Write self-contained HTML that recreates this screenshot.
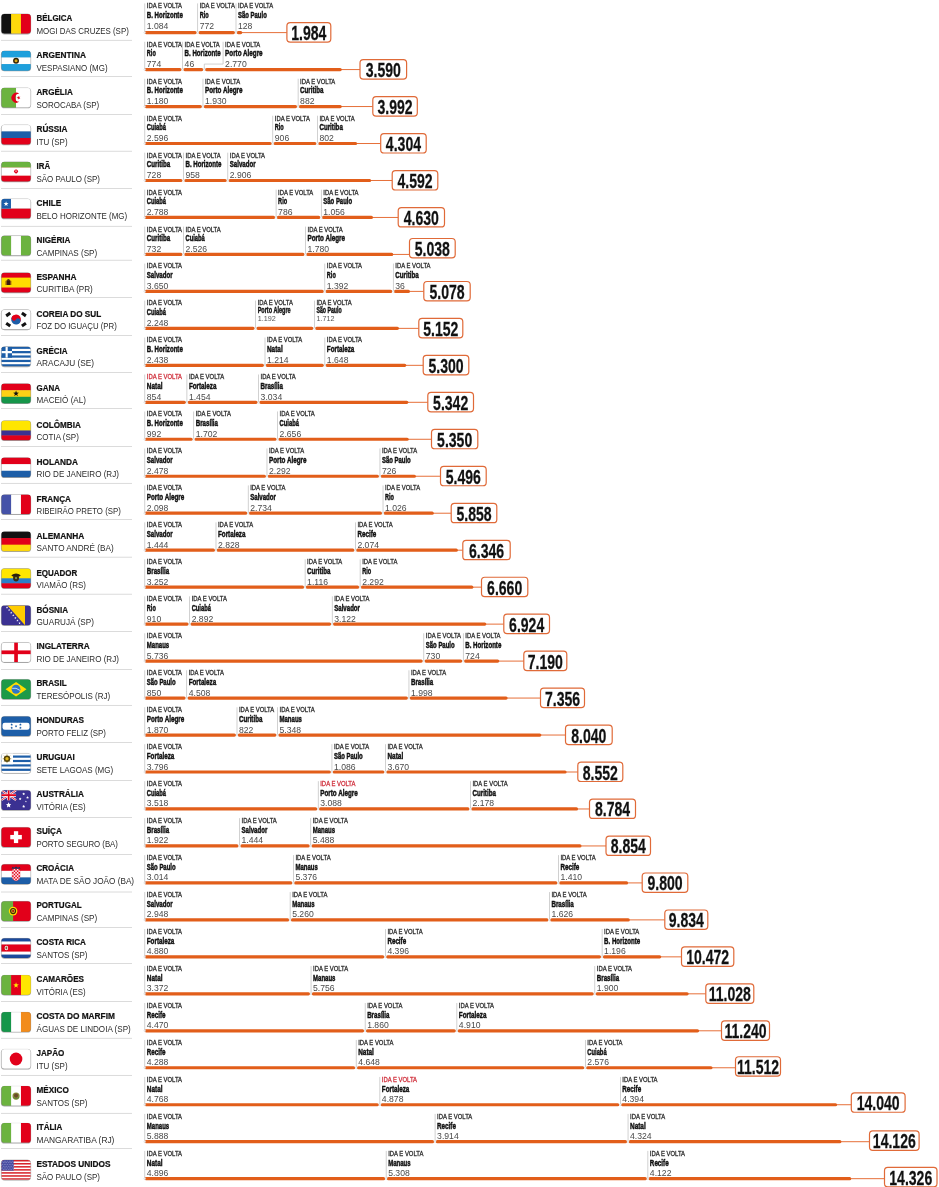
<!DOCTYPE html>
<html><head><meta charset="utf-8"><title>Distâncias</title>
<style>html,body{margin:0;padding:0;background:#fff}body{width:939px;height:1187px;overflow:hidden;font-family:"Liberation Sans",sans-serif}svg{display:block}</style>
</head><body>
<svg width="939" height="1187" viewBox="0 0 939 1187" font-family="Liberation Sans, sans-serif">
<defs><clipPath id="fc"><rect x="0" y="0" width="29" height="19" rx="3.2" ry="3.2"/></clipPath><clipPath id="crs"><path d="M10.6 4.4 H18.4 V11.8 Q18.4 15.4 14.5 16.0 Q10.6 15.4 10.6 11.8 Z"/></clipPath><filter id="sh" x="-20%" y="-20%" width="140%" height="150%"><feGaussianBlur stdDeviation="0.7"/></filter></defs>
<rect width="939" height="1187" fill="#fff"/>
<g opacity="0.999"><rect x="1" y="39.90" width="131" height="0.8" fill="#d2d2d2"/><rect x="0.9" y="13.80" width="30.2" height="20.6" rx="3.6" fill="#000" opacity="0.34" filter="url(#sh)"/><g transform="translate(1.3,13.90) scale(1.017,1.042)"><g clip-path="url(#fc)"><rect x="0.00" y="0.00" width="9.97" height="19.00" fill="#111111"/><rect x="9.67" y="0.00" width="9.97" height="19.00" fill="#ffd90c"/><rect x="19.33" y="0.00" width="9.97" height="19.00" fill="#e2001a"/></g></g><rect x="1.3" y="13.90" width="29.5" height="19.8" rx="3.3" fill="none" stroke="#000" stroke-opacity="0.10" stroke-width="0.6"/><text x="36.50" y="21.00" font-size="8.6" font-weight="bold" fill="#111" textLength="35.84" lengthAdjust="spacingAndGlyphs" stroke="#111" stroke-width="0.2">BÉLGICA</text><text x="36.50" y="33.70" font-size="8.9" font-weight="normal" fill="#2a2a2a" textLength="92.32" lengthAdjust="spacingAndGlyphs" >MOGI DAS CRUZES (SP)</text><rect x="144.45" y="3.40" width="0.7" height="29.20" fill="#bdbdbd"/><text x="146.80" y="8.30" font-size="6.4" font-weight="normal" fill="#2b2b2b" textLength="35.20" lengthAdjust="spacingAndGlyphs" stroke="#2b2b2b" stroke-width="0.28">IDA E VOLTA</text><text x="146.80" y="18.10" font-size="9.7" font-weight="bold" fill="#111" textLength="36.00" lengthAdjust="spacingAndGlyphs" stroke="#111" stroke-width="0.5">B. Horizonte</text><text transform="translate(146.80,28.70) scale(0.93,1)" font-size="9.3" font-weight="normal" fill="#4a4a4a" text-anchor="start" >1.084</text><rect x="197.35" y="3.40" width="0.7" height="29.20" fill="#bdbdbd"/><text x="199.70" y="8.30" font-size="6.4" font-weight="normal" fill="#2b2b2b" textLength="35.20" lengthAdjust="spacingAndGlyphs" stroke="#2b2b2b" stroke-width="0.28">IDA E VOLTA</text><text x="199.70" y="18.10" font-size="9.7" font-weight="bold" fill="#111" textLength="9.00" lengthAdjust="spacingAndGlyphs" stroke="#111" stroke-width="0.5">Rio</text><text transform="translate(199.70,28.70) scale(0.93,1)" font-size="9.3" font-weight="normal" fill="#4a4a4a" text-anchor="start" >772</text><rect x="235.65" y="3.40" width="0.7" height="29.20" fill="#bdbdbd"/><text x="238.00" y="8.30" font-size="6.4" font-weight="normal" fill="#2b2b2b" textLength="35.20" lengthAdjust="spacingAndGlyphs" stroke="#2b2b2b" stroke-width="0.28">IDA E VOLTA</text><text x="238.00" y="18.10" font-size="9.7" font-weight="bold" fill="#111" textLength="28.80" lengthAdjust="spacingAndGlyphs" stroke="#111" stroke-width="0.5">São Paulo</text><text transform="translate(238.00,28.70) scale(0.93,1)" font-size="9.3" font-weight="normal" fill="#4a4a4a" text-anchor="start" >128</text><rect x="241.30" y="32.10" width="45.60" height="1.0" fill="#e6703a"/><rect x="144.60" y="31.00" width="52.10" height="3.2" rx="1.6" fill="#e25e1a"/><rect x="198.40" y="31.00" width="36.60" height="3.2" rx="1.6" fill="#e25e1a"/><rect x="236.70" y="31.00" width="5.60" height="3.2" rx="1.6" fill="#e25e1a"/><circle cx="144.80" cy="32.60" r="0.9" fill="#fff" stroke="#bdbdbd" stroke-width="0.4"/><circle cx="197.70" cy="32.60" r="0.9" fill="#fff" stroke="#bdbdbd" stroke-width="0.4"/><circle cx="236.00" cy="32.60" r="0.9" fill="#fff" stroke="#bdbdbd" stroke-width="0.4"/><rect x="286.90" y="22.70" width="43.90" height="19.4" rx="3.3" fill="#fff" stroke="#e06a38" stroke-width="1.2"/><text transform="translate(308.85,40.10) scale(0.71,1)" font-size="19.8" font-weight="bold" fill="#111" text-anchor="middle" stroke="#111" stroke-width="0.25">1.984</text></g>
<g opacity="0.999"><rect x="1" y="76.07" width="131" height="0.8" fill="#d2d2d2"/><rect x="0.9" y="50.77" width="30.2" height="20.6" rx="3.6" fill="#000" opacity="0.34" filter="url(#sh)"/><g transform="translate(1.3,50.87) scale(1.017,1.042)"><g clip-path="url(#fc)"><rect x="0.00" y="0.00" width="29.00" height="6.63" fill="#1fa0dc"/><rect x="0.00" y="6.33" width="29.00" height="6.63" fill="#ffffff"/><rect x="0.00" y="12.67" width="29.00" height="6.63" fill="#1fa0dc"/><circle cx="14.5" cy="9.5" r="2.9" fill="#2e2205" /><circle cx="14.5" cy="9.5" r="1.5" fill="#d9a81c" /></g></g><rect x="1.3" y="50.87" width="29.5" height="19.8" rx="3.3" fill="none" stroke="#000" stroke-opacity="0.10" stroke-width="0.6"/><text x="36.50" y="57.97" font-size="8.6" font-weight="bold" fill="#111" textLength="49.44" lengthAdjust="spacingAndGlyphs" stroke="#111" stroke-width="0.2">ARGENTINA</text><text x="36.50" y="70.67" font-size="8.9" font-weight="normal" fill="#2a2a2a" textLength="71.04" lengthAdjust="spacingAndGlyphs" >VESPASIANO (MG)</text><rect x="144.45" y="41.77" width="0.7" height="27.80" fill="#bdbdbd"/><text x="146.80" y="46.67" font-size="6.4" font-weight="normal" fill="#2b2b2b" textLength="35.20" lengthAdjust="spacingAndGlyphs" stroke="#2b2b2b" stroke-width="0.28">IDA E VOLTA</text><text x="146.80" y="56.47" font-size="9.7" font-weight="bold" fill="#111" textLength="9.00" lengthAdjust="spacingAndGlyphs" stroke="#111" stroke-width="0.5">Rio</text><text transform="translate(146.80,67.07) scale(0.93,1)" font-size="9.3" font-weight="normal" fill="#4a4a4a" text-anchor="start" >774</text><rect x="182.25" y="41.77" width="0.7" height="27.80" fill="#bdbdbd"/><text x="184.60" y="46.67" font-size="6.4" font-weight="normal" fill="#2b2b2b" textLength="35.20" lengthAdjust="spacingAndGlyphs" stroke="#2b2b2b" stroke-width="0.28">IDA E VOLTA</text><text x="184.60" y="56.47" font-size="9.7" font-weight="bold" fill="#111" textLength="36.00" lengthAdjust="spacingAndGlyphs" stroke="#111" stroke-width="0.5">B. Horizonte</text><text transform="translate(184.60,67.07) scale(0.93,1)" font-size="9.3" font-weight="normal" fill="#4a4a4a" text-anchor="start" >46</text><path d="M223.10 41.77 V64.07 H204.30 V69.57" stroke="#bdbdbd" stroke-width="0.7" fill="none"/><text x="225.10" y="46.67" font-size="6.4" font-weight="normal" fill="#2b2b2b" textLength="35.20" lengthAdjust="spacingAndGlyphs" stroke="#2b2b2b" stroke-width="0.28">IDA E VOLTA</text><text x="225.10" y="56.47" font-size="9.7" font-weight="bold" fill="#111" textLength="37.50" lengthAdjust="spacingAndGlyphs" stroke="#111" stroke-width="0.5">Porto Alegre</text><text transform="translate(225.10,67.07) scale(0.93,1)" font-size="9.3" font-weight="normal" fill="#4a4a4a" text-anchor="start" >2.770</text><rect x="340.80" y="69.07" width="19.20" height="1.0" fill="#e6703a"/><rect x="144.60" y="67.97" width="37.00" height="3.2" rx="1.6" fill="#e25e1a"/><rect x="183.30" y="67.97" width="20.00" height="3.2" rx="1.6" fill="#e25e1a"/><rect x="205.00" y="67.97" width="136.80" height="3.2" rx="1.6" fill="#e25e1a"/><circle cx="144.80" cy="69.57" r="0.9" fill="#fff" stroke="#bdbdbd" stroke-width="0.4"/><circle cx="182.60" cy="69.57" r="0.9" fill="#fff" stroke="#bdbdbd" stroke-width="0.4"/><circle cx="204.30" cy="69.57" r="0.9" fill="#fff" stroke="#bdbdbd" stroke-width="0.4"/><rect x="360.00" y="59.67" width="46.60" height="19.4" rx="3.3" fill="#fff" stroke="#e06a38" stroke-width="1.2"/><text transform="translate(383.30,77.07) scale(0.71,1)" font-size="19.8" font-weight="bold" fill="#111" text-anchor="middle" stroke="#111" stroke-width="0.25">3.590</text></g>
<g opacity="0.999"><rect x="1" y="114.04" width="131" height="0.8" fill="#d2d2d2"/><rect x="0.9" y="87.74" width="30.2" height="20.6" rx="3.6" fill="#000" opacity="0.34" filter="url(#sh)"/><g transform="translate(1.3,87.84) scale(1.017,1.042)"><g clip-path="url(#fc)"><rect x="0.00" y="0.00" width="14.50" height="19.00" fill="#6cb33f"/><rect x="14.50" y="0.00" width="14.50" height="19.00" fill="#ffffff"/><path d="M17.6 5.6 A4.8 4.8 0 1 0 17.6 13.4 A3.7 3.7 0 1 1 17.6 5.6 Z" fill="#e2001a"/><polygon points="14.90,9.50 16.32,9.01 16.35,7.50 17.26,8.70 18.70,8.27 17.84,9.50 18.70,10.73 17.26,10.30 16.35,11.50 16.32,9.99" fill="#e2001a"/></g></g><rect x="1.3" y="87.84" width="29.5" height="19.8" rx="3.3" fill="none" stroke="#000" stroke-opacity="0.10" stroke-width="0.6"/><text x="36.50" y="94.94" font-size="8.6" font-weight="bold" fill="#111" textLength="36.32" lengthAdjust="spacingAndGlyphs" stroke="#111" stroke-width="0.2">ARGÉLIA</text><text x="36.50" y="107.64" font-size="8.9" font-weight="normal" fill="#2a2a2a" textLength="62.72" lengthAdjust="spacingAndGlyphs" >SOROCABA (SP)</text><rect x="144.45" y="78.74" width="0.7" height="27.80" fill="#bdbdbd"/><text x="146.80" y="83.64" font-size="6.4" font-weight="normal" fill="#2b2b2b" textLength="35.20" lengthAdjust="spacingAndGlyphs" stroke="#2b2b2b" stroke-width="0.28">IDA E VOLTA</text><text x="146.80" y="93.44" font-size="9.7" font-weight="bold" fill="#111" textLength="36.00" lengthAdjust="spacingAndGlyphs" stroke="#111" stroke-width="0.5">B. Horizonte</text><text transform="translate(146.80,104.04) scale(0.93,1)" font-size="9.3" font-weight="normal" fill="#4a4a4a" text-anchor="start" >1.180</text><rect x="202.62" y="78.74" width="0.7" height="27.80" fill="#bdbdbd"/><text x="204.97" y="83.64" font-size="6.4" font-weight="normal" fill="#2b2b2b" textLength="35.20" lengthAdjust="spacingAndGlyphs" stroke="#2b2b2b" stroke-width="0.28">IDA E VOLTA</text><text x="204.97" y="93.44" font-size="9.7" font-weight="bold" fill="#111" textLength="37.50" lengthAdjust="spacingAndGlyphs" stroke="#111" stroke-width="0.5">Porto Alegre</text><text transform="translate(204.97,104.04) scale(0.93,1)" font-size="9.3" font-weight="normal" fill="#4a4a4a" text-anchor="start" >1.930</text><rect x="297.77" y="78.74" width="0.7" height="27.80" fill="#bdbdbd"/><text x="300.12" y="83.64" font-size="6.4" font-weight="normal" fill="#2b2b2b" textLength="35.20" lengthAdjust="spacingAndGlyphs" stroke="#2b2b2b" stroke-width="0.28">IDA E VOLTA</text><text x="300.12" y="93.44" font-size="9.7" font-weight="bold" fill="#111" textLength="23.40" lengthAdjust="spacingAndGlyphs" stroke="#111" stroke-width="0.5">Curitiba</text><text transform="translate(300.12,104.04) scale(0.93,1)" font-size="9.3" font-weight="normal" fill="#4a4a4a" text-anchor="start" >882</text><rect x="340.81" y="106.04" width="31.99" height="1.0" fill="#e6703a"/><rect x="144.60" y="104.94" width="57.37" height="3.2" rx="1.6" fill="#e25e1a"/><rect x="203.67" y="104.94" width="93.45" height="3.2" rx="1.6" fill="#e25e1a"/><rect x="298.82" y="104.94" width="42.98" height="3.2" rx="1.6" fill="#e25e1a"/><circle cx="144.80" cy="106.54" r="0.9" fill="#fff" stroke="#bdbdbd" stroke-width="0.4"/><circle cx="202.97" cy="106.54" r="0.9" fill="#fff" stroke="#bdbdbd" stroke-width="0.4"/><circle cx="298.12" cy="106.54" r="0.9" fill="#fff" stroke="#bdbdbd" stroke-width="0.4"/><rect x="372.80" y="96.64" width="44.50" height="19.4" rx="3.3" fill="#fff" stroke="#e06a38" stroke-width="1.2"/><text transform="translate(395.05,114.04) scale(0.71,1)" font-size="19.8" font-weight="bold" fill="#111" text-anchor="middle" stroke="#111" stroke-width="0.25">3.992</text></g>
<g opacity="0.999"><rect x="1" y="150.81" width="131" height="0.8" fill="#d2d2d2"/><rect x="0.9" y="124.71" width="30.2" height="20.6" rx="3.6" fill="#000" opacity="0.34" filter="url(#sh)"/><g transform="translate(1.3,124.81) scale(1.017,1.042)"><g clip-path="url(#fc)"><rect x="0.00" y="0.00" width="29.00" height="6.63" fill="#ffffff"/><rect x="0.00" y="6.33" width="29.00" height="6.63" fill="#1d5ea8"/><rect x="0.00" y="12.67" width="29.00" height="6.63" fill="#e2001a"/></g></g><rect x="1.3" y="124.81" width="29.5" height="19.8" rx="3.3" fill="none" stroke="#000" stroke-opacity="0.10" stroke-width="0.6"/><text x="36.50" y="131.91" font-size="8.6" font-weight="bold" fill="#111" textLength="31.04" lengthAdjust="spacingAndGlyphs" stroke="#111" stroke-width="0.2">RÚSSIA</text><text x="36.50" y="144.61" font-size="8.9" font-weight="normal" fill="#2a2a2a" textLength="31.04" lengthAdjust="spacingAndGlyphs" >ITU (SP)</text><rect x="144.45" y="115.71" width="0.7" height="27.80" fill="#bdbdbd"/><text x="146.80" y="120.61" font-size="6.4" font-weight="normal" fill="#2b2b2b" textLength="35.20" lengthAdjust="spacingAndGlyphs" stroke="#2b2b2b" stroke-width="0.28">IDA E VOLTA</text><text x="146.80" y="130.41" font-size="9.7" font-weight="bold" fill="#111" textLength="19.30" lengthAdjust="spacingAndGlyphs" stroke="#111" stroke-width="0.5">Cuiabá</text><text transform="translate(146.80,141.01) scale(0.93,1)" font-size="9.3" font-weight="normal" fill="#4a4a4a" text-anchor="start" >2.596</text><rect x="272.43" y="115.71" width="0.7" height="27.80" fill="#bdbdbd"/><text x="274.78" y="120.61" font-size="6.4" font-weight="normal" fill="#2b2b2b" textLength="35.20" lengthAdjust="spacingAndGlyphs" stroke="#2b2b2b" stroke-width="0.28">IDA E VOLTA</text><text x="274.78" y="130.41" font-size="9.7" font-weight="bold" fill="#111" textLength="9.00" lengthAdjust="spacingAndGlyphs" stroke="#111" stroke-width="0.5">Rio</text><text transform="translate(274.78,141.01) scale(0.93,1)" font-size="9.3" font-weight="normal" fill="#4a4a4a" text-anchor="start" >906</text><rect x="317.10" y="115.71" width="0.7" height="27.80" fill="#bdbdbd"/><text x="319.45" y="120.61" font-size="6.4" font-weight="normal" fill="#2b2b2b" textLength="35.20" lengthAdjust="spacingAndGlyphs" stroke="#2b2b2b" stroke-width="0.28">IDA E VOLTA</text><text x="319.45" y="130.41" font-size="9.7" font-weight="bold" fill="#111" textLength="23.40" lengthAdjust="spacingAndGlyphs" stroke="#111" stroke-width="0.5">Curitiba</text><text transform="translate(319.45,141.01) scale(0.93,1)" font-size="9.3" font-weight="normal" fill="#4a4a4a" text-anchor="start" >802</text><rect x="356.19" y="143.01" width="24.51" height="1.0" fill="#e6703a"/><rect x="144.60" y="141.91" width="127.18" height="3.2" rx="1.6" fill="#e25e1a"/><rect x="273.48" y="141.91" width="42.97" height="3.2" rx="1.6" fill="#e25e1a"/><rect x="318.15" y="141.91" width="39.04" height="3.2" rx="1.6" fill="#e25e1a"/><circle cx="144.80" cy="143.51" r="0.9" fill="#fff" stroke="#bdbdbd" stroke-width="0.4"/><circle cx="272.78" cy="143.51" r="0.9" fill="#fff" stroke="#bdbdbd" stroke-width="0.4"/><circle cx="317.45" cy="143.51" r="0.9" fill="#fff" stroke="#bdbdbd" stroke-width="0.4"/><rect x="380.70" y="133.61" width="45.50" height="19.4" rx="3.3" fill="#fff" stroke="#e06a38" stroke-width="1.2"/><text transform="translate(403.45,151.01) scale(0.71,1)" font-size="19.8" font-weight="bold" fill="#111" text-anchor="middle" stroke="#111" stroke-width="0.25">4.304</text></g>
<g opacity="0.999"><rect x="1" y="188.08" width="131" height="0.8" fill="#d2d2d2"/><rect x="0.9" y="161.68" width="30.2" height="20.6" rx="3.6" fill="#000" opacity="0.34" filter="url(#sh)"/><g transform="translate(1.3,161.78) scale(1.017,1.042)"><g clip-path="url(#fc)"><rect x="0.00" y="0.00" width="29.00" height="6.00" fill="#6cb33f"/><rect x="0.00" y="5.70" width="29.00" height="7.90" fill="#ffffff"/><rect x="0.00" y="13.30" width="29.00" height="6.00" fill="#e2001a"/><circle cx="14.5" cy="9.2" r="1.9" fill="#e2001a" /><circle cx="14.5" cy="9.0" r="0.8" fill="#ffffff" /><rect x="14.20" y="7.60" width="0.60" height="4.00" fill="#e2001a"/><rect x="0.00" y="5.40" width="29.00" height="0.50" fill="#f2b8b0"/><rect x="0.00" y="13.00" width="29.00" height="0.50" fill="#f2b8b0"/></g></g><rect x="1.3" y="161.78" width="29.5" height="19.8" rx="3.3" fill="none" stroke="#000" stroke-opacity="0.10" stroke-width="0.6"/><text x="36.50" y="168.88" font-size="8.6" font-weight="bold" fill="#111" textLength="13.60" lengthAdjust="spacingAndGlyphs" stroke="#111" stroke-width="0.2">IRÃ</text><text x="36.50" y="181.58" font-size="8.9" font-weight="normal" fill="#2a2a2a" textLength="63.52" lengthAdjust="spacingAndGlyphs" >SÃO PAULO (SP)</text><rect x="144.45" y="152.68" width="0.7" height="27.80" fill="#bdbdbd"/><text x="146.80" y="157.58" font-size="6.4" font-weight="normal" fill="#2b2b2b" textLength="35.20" lengthAdjust="spacingAndGlyphs" stroke="#2b2b2b" stroke-width="0.28">IDA E VOLTA</text><text x="146.80" y="167.38" font-size="9.7" font-weight="bold" fill="#111" textLength="23.40" lengthAdjust="spacingAndGlyphs" stroke="#111" stroke-width="0.5">Curitiba</text><text transform="translate(146.80,177.98) scale(0.93,1)" font-size="9.3" font-weight="normal" fill="#4a4a4a" text-anchor="start" >728</text><rect x="183.15" y="152.68" width="0.7" height="27.80" fill="#bdbdbd"/><text x="185.50" y="157.58" font-size="6.4" font-weight="normal" fill="#2b2b2b" textLength="35.20" lengthAdjust="spacingAndGlyphs" stroke="#2b2b2b" stroke-width="0.28">IDA E VOLTA</text><text x="185.50" y="167.38" font-size="9.7" font-weight="bold" fill="#111" textLength="36.00" lengthAdjust="spacingAndGlyphs" stroke="#111" stroke-width="0.5">B. Horizonte</text><text transform="translate(185.50,177.98) scale(0.93,1)" font-size="9.3" font-weight="normal" fill="#4a4a4a" text-anchor="start" >958</text><rect x="227.45" y="152.68" width="0.7" height="27.80" fill="#bdbdbd"/><text x="229.80" y="157.58" font-size="6.4" font-weight="normal" fill="#2b2b2b" textLength="35.20" lengthAdjust="spacingAndGlyphs" stroke="#2b2b2b" stroke-width="0.28">IDA E VOLTA</text><text x="229.80" y="167.38" font-size="9.7" font-weight="bold" fill="#111" textLength="25.70" lengthAdjust="spacingAndGlyphs" stroke="#111" stroke-width="0.5">Salvador</text><text transform="translate(229.80,177.98) scale(0.93,1)" font-size="9.3" font-weight="normal" fill="#4a4a4a" text-anchor="start" >2.906</text><rect x="370.20" y="179.98" width="22.00" height="1.0" fill="#e6703a"/><rect x="144.60" y="178.88" width="37.90" height="3.2" rx="1.6" fill="#e25e1a"/><rect x="184.20" y="178.88" width="42.60" height="3.2" rx="1.6" fill="#e25e1a"/><rect x="228.50" y="178.88" width="142.70" height="3.2" rx="1.6" fill="#e25e1a"/><circle cx="144.80" cy="180.48" r="0.9" fill="#fff" stroke="#bdbdbd" stroke-width="0.4"/><circle cx="183.50" cy="180.48" r="0.9" fill="#fff" stroke="#bdbdbd" stroke-width="0.4"/><circle cx="227.80" cy="180.48" r="0.9" fill="#fff" stroke="#bdbdbd" stroke-width="0.4"/><rect x="392.20" y="170.58" width="45.60" height="19.4" rx="3.3" fill="#fff" stroke="#e06a38" stroke-width="1.2"/><text transform="translate(415.00,187.98) scale(0.71,1)" font-size="19.8" font-weight="bold" fill="#111" text-anchor="middle" stroke="#111" stroke-width="0.25">4.592</text></g>
<g opacity="0.999"><rect x="1" y="225.90" width="131" height="0.8" fill="#d2d2d2"/><rect x="0.9" y="198.65" width="30.2" height="20.6" rx="3.6" fill="#000" opacity="0.34" filter="url(#sh)"/><g transform="translate(1.3,198.75) scale(1.017,1.042)"><g clip-path="url(#fc)"><rect x="0.00" y="0.00" width="29.00" height="9.50" fill="#ffffff"/><rect x="0.00" y="9.50" width="29.00" height="9.50" fill="#e2001a"/><rect x="0.00" y="0.00" width="9.50" height="9.50" fill="#1d5ea8"/><polygon points="4.70,2.30 5.31,4.06 7.17,4.10 5.69,5.22 6.23,7.00 4.70,5.94 3.17,7.00 3.71,5.22 2.23,4.10 4.09,4.06" fill="#ffffff"/></g></g><rect x="1.3" y="198.75" width="29.5" height="19.8" rx="3.3" fill="none" stroke="#000" stroke-opacity="0.10" stroke-width="0.6"/><text x="36.50" y="205.85" font-size="8.6" font-weight="bold" fill="#111" textLength="24.80" lengthAdjust="spacingAndGlyphs" stroke="#111" stroke-width="0.2">CHILE</text><text x="36.50" y="218.55" font-size="8.9" font-weight="normal" fill="#2a2a2a" textLength="90.72" lengthAdjust="spacingAndGlyphs" >BELO HORIZONTE (MG)</text><rect x="144.45" y="189.65" width="0.7" height="27.80" fill="#bdbdbd"/><text x="146.80" y="194.55" font-size="6.4" font-weight="normal" fill="#2b2b2b" textLength="35.20" lengthAdjust="spacingAndGlyphs" stroke="#2b2b2b" stroke-width="0.28">IDA E VOLTA</text><text x="146.80" y="204.35" font-size="9.7" font-weight="bold" fill="#111" textLength="19.30" lengthAdjust="spacingAndGlyphs" stroke="#111" stroke-width="0.5">Cuiabá</text><text transform="translate(146.80,214.95) scale(0.93,1)" font-size="9.3" font-weight="normal" fill="#4a4a4a" text-anchor="start" >2.788</text><rect x="275.75" y="189.65" width="0.7" height="27.80" fill="#bdbdbd"/><text x="278.10" y="194.55" font-size="6.4" font-weight="normal" fill="#2b2b2b" textLength="35.20" lengthAdjust="spacingAndGlyphs" stroke="#2b2b2b" stroke-width="0.28">IDA E VOLTA</text><text x="278.10" y="204.35" font-size="9.7" font-weight="bold" fill="#111" textLength="9.00" lengthAdjust="spacingAndGlyphs" stroke="#111" stroke-width="0.5">Rio</text><text transform="translate(278.10,214.95) scale(0.93,1)" font-size="9.3" font-weight="normal" fill="#4a4a4a" text-anchor="start" >786</text><rect x="320.95" y="189.65" width="0.7" height="27.80" fill="#bdbdbd"/><text x="323.30" y="194.55" font-size="6.4" font-weight="normal" fill="#2b2b2b" textLength="35.20" lengthAdjust="spacingAndGlyphs" stroke="#2b2b2b" stroke-width="0.28">IDA E VOLTA</text><text x="323.30" y="204.35" font-size="9.7" font-weight="bold" fill="#111" textLength="28.80" lengthAdjust="spacingAndGlyphs" stroke="#111" stroke-width="0.5">São Paulo</text><text transform="translate(323.30,214.95) scale(0.93,1)" font-size="9.3" font-weight="normal" fill="#4a4a4a" text-anchor="start" >1.056</text><rect x="372.00" y="216.95" width="26.20" height="1.0" fill="#e6703a"/><rect x="144.60" y="215.85" width="130.50" height="3.2" rx="1.6" fill="#e25e1a"/><rect x="276.80" y="215.85" width="43.50" height="3.2" rx="1.6" fill="#e25e1a"/><rect x="322.00" y="215.85" width="51.00" height="3.2" rx="1.6" fill="#e25e1a"/><circle cx="144.80" cy="217.45" r="0.9" fill="#fff" stroke="#bdbdbd" stroke-width="0.4"/><circle cx="276.10" cy="217.45" r="0.9" fill="#fff" stroke="#bdbdbd" stroke-width="0.4"/><circle cx="321.30" cy="217.45" r="0.9" fill="#fff" stroke="#bdbdbd" stroke-width="0.4"/><rect x="398.20" y="207.55" width="46.30" height="19.4" rx="3.3" fill="#fff" stroke="#e06a38" stroke-width="1.2"/><text transform="translate(421.35,224.95) scale(0.71,1)" font-size="19.8" font-weight="bold" fill="#111" text-anchor="middle" stroke="#111" stroke-width="0.25">4.630</text></g>
<g opacity="0.999"><rect x="1" y="259.82" width="131" height="0.8" fill="#d2d2d2"/><rect x="0.9" y="235.62" width="30.2" height="20.6" rx="3.6" fill="#000" opacity="0.34" filter="url(#sh)"/><g transform="translate(1.3,235.72) scale(1.017,1.042)"><g clip-path="url(#fc)"><rect x="0.00" y="0.00" width="9.97" height="19.00" fill="#6cb33f"/><rect x="9.67" y="0.00" width="9.97" height="19.00" fill="#ffffff"/><rect x="19.33" y="0.00" width="9.97" height="19.00" fill="#6cb33f"/></g></g><rect x="1.3" y="235.72" width="29.5" height="19.8" rx="3.3" fill="none" stroke="#000" stroke-opacity="0.10" stroke-width="0.6"/><text x="36.50" y="242.82" font-size="8.6" font-weight="bold" fill="#111" textLength="33.92" lengthAdjust="spacingAndGlyphs" stroke="#111" stroke-width="0.2">NIGÉRIA</text><text x="36.50" y="255.52" font-size="8.9" font-weight="normal" fill="#2a2a2a" textLength="60.64" lengthAdjust="spacingAndGlyphs" >CAMPINAS (SP)</text><rect x="144.45" y="226.62" width="0.7" height="27.80" fill="#bdbdbd"/><text x="146.80" y="231.52" font-size="6.4" font-weight="normal" fill="#2b2b2b" textLength="35.20" lengthAdjust="spacingAndGlyphs" stroke="#2b2b2b" stroke-width="0.28">IDA E VOLTA</text><text x="146.80" y="241.32" font-size="9.7" font-weight="bold" fill="#111" textLength="23.40" lengthAdjust="spacingAndGlyphs" stroke="#111" stroke-width="0.5">Curitiba</text><text transform="translate(146.80,251.92) scale(0.93,1)" font-size="9.3" font-weight="normal" fill="#4a4a4a" text-anchor="start" >732</text><rect x="183.15" y="226.62" width="0.7" height="27.80" fill="#bdbdbd"/><text x="185.50" y="231.52" font-size="6.4" font-weight="normal" fill="#2b2b2b" textLength="35.20" lengthAdjust="spacingAndGlyphs" stroke="#2b2b2b" stroke-width="0.28">IDA E VOLTA</text><text x="185.50" y="241.32" font-size="9.7" font-weight="bold" fill="#111" textLength="19.30" lengthAdjust="spacingAndGlyphs" stroke="#111" stroke-width="0.5">Cuiabá</text><text transform="translate(185.50,251.92) scale(0.93,1)" font-size="9.3" font-weight="normal" fill="#4a4a4a" text-anchor="start" >2.526</text><rect x="305.15" y="226.62" width="0.7" height="27.80" fill="#bdbdbd"/><text x="307.50" y="231.52" font-size="6.4" font-weight="normal" fill="#2b2b2b" textLength="35.20" lengthAdjust="spacingAndGlyphs" stroke="#2b2b2b" stroke-width="0.28">IDA E VOLTA</text><text x="307.50" y="241.32" font-size="9.7" font-weight="bold" fill="#111" textLength="37.50" lengthAdjust="spacingAndGlyphs" stroke="#111" stroke-width="0.5">Porto Alegre</text><text transform="translate(307.50,251.92) scale(0.93,1)" font-size="9.3" font-weight="normal" fill="#4a4a4a" text-anchor="start" >1.780</text><rect x="392.30" y="253.92" width="17.20" height="1.0" fill="#e6703a"/><rect x="144.60" y="252.82" width="37.90" height="3.2" rx="1.6" fill="#e25e1a"/><rect x="184.20" y="252.82" width="120.30" height="3.2" rx="1.6" fill="#e25e1a"/><rect x="306.20" y="252.82" width="87.10" height="3.2" rx="1.6" fill="#e25e1a"/><circle cx="144.80" cy="254.42" r="0.9" fill="#fff" stroke="#bdbdbd" stroke-width="0.4"/><circle cx="183.50" cy="254.42" r="0.9" fill="#fff" stroke="#bdbdbd" stroke-width="0.4"/><circle cx="305.50" cy="254.42" r="0.9" fill="#fff" stroke="#bdbdbd" stroke-width="0.4"/><rect x="409.50" y="238.52" width="45.70" height="19.4" rx="3.3" fill="#fff" stroke="#e06a38" stroke-width="1.2"/><text transform="translate(432.35,255.92) scale(0.71,1)" font-size="19.8" font-weight="bold" fill="#111" text-anchor="middle" stroke="#111" stroke-width="0.25">5.038</text></g>
<g opacity="0.999"><rect x="1" y="297.09" width="131" height="0.8" fill="#d2d2d2"/><rect x="0.9" y="272.59" width="30.2" height="20.6" rx="3.6" fill="#000" opacity="0.34" filter="url(#sh)"/><g transform="translate(1.3,272.69) scale(1.017,1.042)"><g clip-path="url(#fc)"><rect x="0.00" y="0.00" width="29.00" height="5.05" fill="#e2001a"/><rect x="0.00" y="4.75" width="29.00" height="9.80" fill="#ffdd00"/><rect x="0.00" y="14.25" width="29.00" height="5.05" fill="#e2001a"/><rect x="5.20" y="7.20" width="3.60" height="4.60" fill="#3a1a10"/><rect x="4.20" y="7.80" width="1.00" height="4.00" fill="#7a3a10"/><rect x="8.80" y="7.80" width="1.00" height="4.00" fill="#7a3a10"/><rect x="6.00" y="6.30" width="2.00" height="1.00" fill="#3a1a10"/></g></g><rect x="1.3" y="272.69" width="29.5" height="19.8" rx="3.3" fill="none" stroke="#000" stroke-opacity="0.10" stroke-width="0.6"/><text x="36.50" y="279.79" font-size="8.6" font-weight="bold" fill="#111" textLength="40.00" lengthAdjust="spacingAndGlyphs" stroke="#111" stroke-width="0.2">ESPANHA</text><text x="36.50" y="292.49" font-size="8.9" font-weight="normal" fill="#2a2a2a" textLength="56.32" lengthAdjust="spacingAndGlyphs" >CURITIBA (PR)</text><rect x="144.45" y="263.59" width="0.7" height="27.80" fill="#bdbdbd"/><text x="146.80" y="268.49" font-size="6.4" font-weight="normal" fill="#2b2b2b" textLength="35.20" lengthAdjust="spacingAndGlyphs" stroke="#2b2b2b" stroke-width="0.28">IDA E VOLTA</text><text x="146.80" y="278.29" font-size="9.7" font-weight="bold" fill="#111" textLength="25.70" lengthAdjust="spacingAndGlyphs" stroke="#111" stroke-width="0.5">Salvador</text><text transform="translate(146.80,288.89) scale(0.93,1)" font-size="9.3" font-weight="normal" fill="#4a4a4a" text-anchor="start" >3.650</text><rect x="324.45" y="263.59" width="0.7" height="27.80" fill="#bdbdbd"/><text x="326.80" y="268.49" font-size="6.4" font-weight="normal" fill="#2b2b2b" textLength="35.20" lengthAdjust="spacingAndGlyphs" stroke="#2b2b2b" stroke-width="0.28">IDA E VOLTA</text><text x="326.80" y="278.29" font-size="9.7" font-weight="bold" fill="#111" textLength="9.00" lengthAdjust="spacingAndGlyphs" stroke="#111" stroke-width="0.5">Rio</text><text transform="translate(326.80,288.89) scale(0.93,1)" font-size="9.3" font-weight="normal" fill="#4a4a4a" text-anchor="start" >1.392</text><rect x="392.95" y="263.59" width="0.7" height="27.80" fill="#bdbdbd"/><text x="395.30" y="268.49" font-size="6.4" font-weight="normal" fill="#2b2b2b" textLength="35.20" lengthAdjust="spacingAndGlyphs" stroke="#2b2b2b" stroke-width="0.28">IDA E VOLTA</text><text x="395.30" y="278.29" font-size="9.7" font-weight="bold" fill="#111" textLength="23.40" lengthAdjust="spacingAndGlyphs" stroke="#111" stroke-width="0.5">Curitiba</text><text transform="translate(395.30,288.89) scale(0.93,1)" font-size="9.3" font-weight="normal" fill="#4a4a4a" text-anchor="start" >36</text><rect x="409.00" y="290.89" width="14.80" height="1.0" fill="#e6703a"/><rect x="144.60" y="289.79" width="179.20" height="3.2" rx="1.6" fill="#e25e1a"/><rect x="325.50" y="289.79" width="66.80" height="3.2" rx="1.6" fill="#e25e1a"/><rect x="394.00" y="289.79" width="16.00" height="3.2" rx="1.6" fill="#e25e1a"/><circle cx="144.80" cy="291.39" r="0.9" fill="#fff" stroke="#bdbdbd" stroke-width="0.4"/><circle cx="324.80" cy="291.39" r="0.9" fill="#fff" stroke="#bdbdbd" stroke-width="0.4"/><circle cx="393.30" cy="291.39" r="0.9" fill="#fff" stroke="#bdbdbd" stroke-width="0.4"/><rect x="423.80" y="281.49" width="46.40" height="19.4" rx="3.3" fill="#fff" stroke="#e06a38" stroke-width="1.2"/><text transform="translate(447.00,298.89) scale(0.71,1)" font-size="19.8" font-weight="bold" fill="#111" text-anchor="middle" stroke="#111" stroke-width="0.25">5.078</text></g>
<g opacity="0.999"><rect x="1" y="335.06" width="131" height="0.8" fill="#d2d2d2"/><rect x="0.9" y="309.56" width="30.2" height="20.6" rx="3.6" fill="#000" opacity="0.34" filter="url(#sh)"/><g transform="translate(1.3,309.66) scale(1.017,1.042)"><g clip-path="url(#fc)"><rect x="0.00" y="0.00" width="29.00" height="19.00" fill="#ffffff"/><g transform="rotate(33 14.5 9.5)"><path d="M9.7 9.5 A4.8 4.8 0 0 1 19.3 9.5 Z" fill="#e2001a"/><path d="M9.7 9.5 A4.8 4.8 0 0 0 19.3 9.5 Z" fill="#1d5ea8"/><circle cx="12.1" cy="9.5" r="2.4" fill="#e2001a" /><circle cx="16.9" cy="9.5" r="2.4" fill="#1d5ea8" /></g><rect x="5.3" y="2.1999999999999997" width="3.0" height="4.8" fill="#111111" transform="rotate(56 6.8 4.6)"/><rect x="20.7" y="2.1999999999999997" width="3.0" height="4.8" fill="#111111" transform="rotate(-56 22.2 4.6)"/><rect x="5.3" y="12.0" width="3.0" height="4.8" fill="#111111" transform="rotate(-56 6.8 14.4)"/><rect x="20.7" y="12.0" width="3.0" height="4.8" fill="#111111" transform="rotate(56 22.2 14.4)"/></g></g><rect x="1.3" y="309.66" width="29.5" height="19.8" rx="3.3" fill="none" stroke="#000" stroke-opacity="0.10" stroke-width="0.6"/><text x="36.50" y="316.76" font-size="8.6" font-weight="bold" fill="#111" textLength="64.64" lengthAdjust="spacingAndGlyphs" stroke="#111" stroke-width="0.2">COREIA DO SUL</text><text x="36.50" y="329.46" font-size="8.9" font-weight="normal" fill="#2a2a2a" textLength="80.32" lengthAdjust="spacingAndGlyphs" >FOZ DO IGUAÇU (PR)</text><rect x="144.45" y="300.56" width="0.7" height="27.80" fill="#bdbdbd"/><text x="146.80" y="305.46" font-size="6.4" font-weight="normal" fill="#2b2b2b" textLength="35.20" lengthAdjust="spacingAndGlyphs" stroke="#2b2b2b" stroke-width="0.28">IDA E VOLTA</text><text x="146.80" y="315.26" font-size="9.7" font-weight="bold" fill="#111" textLength="19.30" lengthAdjust="spacingAndGlyphs" stroke="#111" stroke-width="0.5">Cuiabá</text><text transform="translate(146.80,325.86) scale(0.93,1)" font-size="9.3" font-weight="normal" fill="#4a4a4a" text-anchor="start" >2.248</text><rect x="255.28" y="300.56" width="0.7" height="27.80" fill="#bdbdbd"/><text x="257.63" y="305.46" font-size="6.4" font-weight="normal" fill="#2b2b2b" textLength="35.20" lengthAdjust="spacingAndGlyphs" stroke="#2b2b2b" stroke-width="0.28">IDA E VOLTA</text><text x="257.63" y="312.96" font-size="9.0" font-weight="bold" fill="#111" textLength="33.00" lengthAdjust="spacingAndGlyphs" stroke="#111" stroke-width="0.45">Porto Alegre</text><text transform="translate(257.63,320.76) scale(0.93,1)" font-size="7.8" font-weight="normal" fill="#555" text-anchor="start" >1.192</text><rect x="314.04" y="300.56" width="0.7" height="27.80" fill="#bdbdbd"/><text x="316.39" y="305.46" font-size="6.4" font-weight="normal" fill="#2b2b2b" textLength="35.20" lengthAdjust="spacingAndGlyphs" stroke="#2b2b2b" stroke-width="0.28">IDA E VOLTA</text><text x="316.39" y="312.96" font-size="9.0" font-weight="bold" fill="#111" textLength="25.34" lengthAdjust="spacingAndGlyphs" stroke="#111" stroke-width="0.45">São Paulo</text><text transform="translate(316.39,320.76) scale(0.93,1)" font-size="7.8" font-weight="normal" fill="#555" text-anchor="start" >1.712</text><rect x="397.99" y="327.86" width="20.81" height="1.0" fill="#e6703a"/><rect x="144.60" y="326.76" width="110.03" height="3.2" rx="1.6" fill="#e25e1a"/><rect x="256.33" y="326.76" width="57.07" height="3.2" rx="1.6" fill="#e25e1a"/><rect x="315.09" y="326.76" width="83.90" height="3.2" rx="1.6" fill="#e25e1a"/><circle cx="144.80" cy="328.36" r="0.9" fill="#fff" stroke="#bdbdbd" stroke-width="0.4"/><circle cx="255.63" cy="328.36" r="0.9" fill="#fff" stroke="#bdbdbd" stroke-width="0.4"/><circle cx="314.39" cy="328.36" r="0.9" fill="#fff" stroke="#bdbdbd" stroke-width="0.4"/><rect x="418.80" y="318.46" width="44.00" height="19.4" rx="3.3" fill="#fff" stroke="#e06a38" stroke-width="1.2"/><text transform="translate(440.80,335.86) scale(0.71,1)" font-size="19.8" font-weight="bold" fill="#111" text-anchor="middle" stroke="#111" stroke-width="0.25">5.152</text></g>
<g opacity="0.999"><rect x="1" y="372.13" width="131" height="0.8" fill="#d2d2d2"/><rect x="0.9" y="346.53" width="30.2" height="20.6" rx="3.6" fill="#000" opacity="0.34" filter="url(#sh)"/><g transform="translate(1.3,346.63) scale(1.017,1.042)"><g clip-path="url(#fc)"><rect x="0.00" y="0.00" width="29.00" height="19.00" fill="#ffffff"/><rect x="0.00" y="0.00" width="29.00" height="2.16" fill="#1d5ea8"/><rect x="0.00" y="4.22" width="29.00" height="2.16" fill="#1d5ea8"/><rect x="0.00" y="8.44" width="29.00" height="2.16" fill="#1d5ea8"/><rect x="0.00" y="12.67" width="29.00" height="2.16" fill="#1d5ea8"/><rect x="0.00" y="16.89" width="29.00" height="2.16" fill="#1d5ea8"/><rect x="0.00" y="0.00" width="10.50" height="10.56" fill="#1d5ea8"/><rect x="4.20" y="0.00" width="2.10" height="10.56" fill="#ffffff"/><rect x="0.00" y="4.22" width="10.50" height="2.11" fill="#ffffff"/></g></g><rect x="1.3" y="346.63" width="29.5" height="19.8" rx="3.3" fill="none" stroke="#000" stroke-opacity="0.10" stroke-width="0.6"/><text x="36.50" y="353.73" font-size="8.6" font-weight="bold" fill="#111" textLength="31.04" lengthAdjust="spacingAndGlyphs" stroke="#111" stroke-width="0.2">GRÉCIA</text><text x="36.50" y="366.43" font-size="8.9" font-weight="normal" fill="#2a2a2a" textLength="57.44" lengthAdjust="spacingAndGlyphs" >ARACAJU (SE)</text><rect x="144.45" y="337.53" width="0.7" height="27.80" fill="#bdbdbd"/><text x="146.80" y="342.43" font-size="6.4" font-weight="normal" fill="#2b2b2b" textLength="35.20" lengthAdjust="spacingAndGlyphs" stroke="#2b2b2b" stroke-width="0.28">IDA E VOLTA</text><text x="146.80" y="352.23" font-size="9.7" font-weight="bold" fill="#111" textLength="36.00" lengthAdjust="spacingAndGlyphs" stroke="#111" stroke-width="0.5">B. Horizonte</text><text transform="translate(146.80,362.83) scale(0.93,1)" font-size="9.3" font-weight="normal" fill="#4a4a4a" text-anchor="start" >2.438</text><rect x="264.64" y="337.53" width="0.7" height="27.80" fill="#bdbdbd"/><text x="266.99" y="342.43" font-size="6.4" font-weight="normal" fill="#2b2b2b" textLength="35.20" lengthAdjust="spacingAndGlyphs" stroke="#2b2b2b" stroke-width="0.28">IDA E VOLTA</text><text x="266.99" y="352.23" font-size="9.7" font-weight="bold" fill="#111" textLength="15.70" lengthAdjust="spacingAndGlyphs" stroke="#111" stroke-width="0.5">Natal</text><text transform="translate(266.99,362.83) scale(0.93,1)" font-size="9.3" font-weight="normal" fill="#4a4a4a" text-anchor="start" >1.214</text><rect x="324.49" y="337.53" width="0.7" height="27.80" fill="#bdbdbd"/><text x="326.84" y="342.43" font-size="6.4" font-weight="normal" fill="#2b2b2b" textLength="35.20" lengthAdjust="spacingAndGlyphs" stroke="#2b2b2b" stroke-width="0.28">IDA E VOLTA</text><text x="326.84" y="352.23" font-size="9.7" font-weight="bold" fill="#111" textLength="27.50" lengthAdjust="spacingAndGlyphs" stroke="#111" stroke-width="0.5">Fortaleza</text><text transform="translate(326.84,362.83) scale(0.93,1)" font-size="9.3" font-weight="normal" fill="#4a4a4a" text-anchor="start" >1.648</text><rect x="405.29" y="364.83" width="17.91" height="1.0" fill="#e6703a"/><rect x="144.60" y="363.73" width="119.39" height="3.2" rx="1.6" fill="#e25e1a"/><rect x="265.69" y="363.73" width="58.15" height="3.2" rx="1.6" fill="#e25e1a"/><rect x="325.54" y="363.73" width="80.75" height="3.2" rx="1.6" fill="#e25e1a"/><circle cx="144.80" cy="365.33" r="0.9" fill="#fff" stroke="#bdbdbd" stroke-width="0.4"/><circle cx="264.99" cy="365.33" r="0.9" fill="#fff" stroke="#bdbdbd" stroke-width="0.4"/><circle cx="324.84" cy="365.33" r="0.9" fill="#fff" stroke="#bdbdbd" stroke-width="0.4"/><rect x="423.20" y="355.43" width="45.60" height="19.4" rx="3.3" fill="#fff" stroke="#e06a38" stroke-width="1.2"/><text transform="translate(446.00,372.83) scale(0.71,1)" font-size="19.8" font-weight="bold" fill="#111" text-anchor="middle" stroke="#111" stroke-width="0.25">5.300</text></g>
<g opacity="0.999"><rect x="1" y="408.00" width="131" height="0.8" fill="#d2d2d2"/><rect x="0.9" y="383.50" width="30.2" height="20.6" rx="3.6" fill="#000" opacity="0.34" filter="url(#sh)"/><g transform="translate(1.3,383.60) scale(1.017,1.042)"><g clip-path="url(#fc)"><rect x="0.00" y="0.00" width="29.00" height="6.63" fill="#e2001a"/><rect x="0.00" y="6.33" width="29.00" height="6.63" fill="#fcd116"/><rect x="0.00" y="12.67" width="29.00" height="6.63" fill="#16964a"/><polygon points="14.50,6.60 15.21,8.63 17.35,8.67 15.64,9.97 16.26,12.03 14.50,10.80 12.74,12.03 13.36,9.97 11.65,8.67 13.79,8.63" fill="#111111"/></g></g><rect x="1.3" y="383.60" width="29.5" height="19.8" rx="3.3" fill="none" stroke="#000" stroke-opacity="0.10" stroke-width="0.6"/><text x="36.50" y="390.70" font-size="8.6" font-weight="bold" fill="#111" textLength="23.52" lengthAdjust="spacingAndGlyphs" stroke="#111" stroke-width="0.2">GANA</text><text x="36.50" y="403.40" font-size="8.9" font-weight="normal" fill="#2a2a2a" textLength="49.44" lengthAdjust="spacingAndGlyphs" >MACEIÓ (AL)</text><rect x="144.45" y="374.50" width="0.7" height="27.80" fill="#bdbdbd"/><text x="146.80" y="379.40" font-size="6.4" font-weight="normal" fill="#d0313d" textLength="35.20" lengthAdjust="spacingAndGlyphs" stroke="#d0313d" stroke-width="0.28">IDA E VOLTA</text><text x="146.80" y="389.20" font-size="9.7" font-weight="bold" fill="#111" textLength="15.70" lengthAdjust="spacingAndGlyphs" stroke="#111" stroke-width="0.5">Natal</text><text transform="translate(146.80,399.80) scale(0.93,1)" font-size="9.3" font-weight="normal" fill="#4a4a4a" text-anchor="start" >854</text><rect x="186.55" y="374.50" width="0.7" height="27.80" fill="#bdbdbd"/><text x="188.90" y="379.40" font-size="6.4" font-weight="normal" fill="#2b2b2b" textLength="35.20" lengthAdjust="spacingAndGlyphs" stroke="#2b2b2b" stroke-width="0.28">IDA E VOLTA</text><text x="188.90" y="389.20" font-size="9.7" font-weight="bold" fill="#111" textLength="27.50" lengthAdjust="spacingAndGlyphs" stroke="#111" stroke-width="0.5">Fortaleza</text><text transform="translate(188.90,399.80) scale(0.93,1)" font-size="9.3" font-weight="normal" fill="#4a4a4a" text-anchor="start" >1.454</text><rect x="258.23" y="374.50" width="0.7" height="27.80" fill="#bdbdbd"/><text x="260.58" y="379.40" font-size="6.4" font-weight="normal" fill="#2b2b2b" textLength="35.20" lengthAdjust="spacingAndGlyphs" stroke="#2b2b2b" stroke-width="0.28">IDA E VOLTA</text><text x="260.58" y="389.20" font-size="9.7" font-weight="bold" fill="#111" textLength="22.30" lengthAdjust="spacingAndGlyphs" stroke="#111" stroke-width="0.5">Brasília</text><text transform="translate(260.58,399.80) scale(0.93,1)" font-size="9.3" font-weight="normal" fill="#4a4a4a" text-anchor="start" >3.034</text><rect x="407.36" y="401.80" width="20.44" height="1.0" fill="#e6703a"/><rect x="144.60" y="400.70" width="41.30" height="3.2" rx="1.6" fill="#e25e1a"/><rect x="187.60" y="400.70" width="69.98" height="3.2" rx="1.6" fill="#e25e1a"/><rect x="259.28" y="400.70" width="149.08" height="3.2" rx="1.6" fill="#e25e1a"/><circle cx="144.80" cy="402.30" r="0.9" fill="#fff" stroke="#bdbdbd" stroke-width="0.4"/><circle cx="186.90" cy="402.30" r="0.9" fill="#fff" stroke="#bdbdbd" stroke-width="0.4"/><circle cx="258.58" cy="402.30" r="0.9" fill="#fff" stroke="#bdbdbd" stroke-width="0.4"/><rect x="427.80" y="392.40" width="45.70" height="19.4" rx="3.3" fill="#fff" stroke="#e06a38" stroke-width="1.2"/><text transform="translate(450.65,409.80) scale(0.71,1)" font-size="19.8" font-weight="bold" fill="#111" text-anchor="middle" stroke="#111" stroke-width="0.25">5.342</text></g>
<g opacity="0.999"><rect x="1" y="446.07" width="131" height="0.8" fill="#d2d2d2"/><rect x="0.9" y="420.47" width="30.2" height="20.6" rx="3.6" fill="#000" opacity="0.34" filter="url(#sh)"/><g transform="translate(1.3,420.57) scale(1.017,1.042)"><g clip-path="url(#fc)"><rect x="0.00" y="0.00" width="29.00" height="9.80" fill="#ffe600"/><rect x="0.00" y="9.50" width="29.00" height="5.05" fill="#3b3192"/><rect x="0.00" y="14.25" width="29.00" height="5.05" fill="#e2001a"/></g></g><rect x="1.3" y="420.57" width="29.5" height="19.8" rx="3.3" fill="none" stroke="#000" stroke-opacity="0.10" stroke-width="0.6"/><text x="36.50" y="427.67" font-size="8.6" font-weight="bold" fill="#111" textLength="44.32" lengthAdjust="spacingAndGlyphs" stroke="#111" stroke-width="0.2">COLÔMBIA</text><text x="36.50" y="440.37" font-size="8.9" font-weight="normal" fill="#2a2a2a" textLength="42.40" lengthAdjust="spacingAndGlyphs" >COTIA (SP)</text><rect x="144.45" y="411.47" width="0.7" height="27.80" fill="#bdbdbd"/><text x="146.80" y="416.37" font-size="6.4" font-weight="normal" fill="#2b2b2b" textLength="35.20" lengthAdjust="spacingAndGlyphs" stroke="#2b2b2b" stroke-width="0.28">IDA E VOLTA</text><text x="146.80" y="426.17" font-size="9.7" font-weight="bold" fill="#111" textLength="36.00" lengthAdjust="spacingAndGlyphs" stroke="#111" stroke-width="0.5">B. Horizonte</text><text transform="translate(146.80,436.77) scale(0.93,1)" font-size="9.3" font-weight="normal" fill="#4a4a4a" text-anchor="start" >992</text><rect x="193.36" y="411.47" width="0.7" height="27.80" fill="#bdbdbd"/><text x="195.71" y="416.37" font-size="6.4" font-weight="normal" fill="#2b2b2b" textLength="35.20" lengthAdjust="spacingAndGlyphs" stroke="#2b2b2b" stroke-width="0.28">IDA E VOLTA</text><text x="195.71" y="426.17" font-size="9.7" font-weight="bold" fill="#111" textLength="22.30" lengthAdjust="spacingAndGlyphs" stroke="#111" stroke-width="0.5">Brasília</text><text transform="translate(195.71,436.77) scale(0.93,1)" font-size="9.3" font-weight="normal" fill="#4a4a4a" text-anchor="start" >1.702</text><rect x="277.26" y="411.47" width="0.7" height="27.80" fill="#bdbdbd"/><text x="279.61" y="416.37" font-size="6.4" font-weight="normal" fill="#2b2b2b" textLength="35.20" lengthAdjust="spacingAndGlyphs" stroke="#2b2b2b" stroke-width="0.28">IDA E VOLTA</text><text x="279.61" y="426.17" font-size="9.7" font-weight="bold" fill="#111" textLength="19.30" lengthAdjust="spacingAndGlyphs" stroke="#111" stroke-width="0.5">Cuiabá</text><text transform="translate(279.61,436.77) scale(0.93,1)" font-size="9.3" font-weight="normal" fill="#4a4a4a" text-anchor="start" >2.656</text><rect x="407.75" y="438.77" width="23.75" height="1.0" fill="#e6703a"/><rect x="144.60" y="437.67" width="48.11" height="3.2" rx="1.6" fill="#e25e1a"/><rect x="194.41" y="437.67" width="82.21" height="3.2" rx="1.6" fill="#e25e1a"/><rect x="278.31" y="437.67" width="130.44" height="3.2" rx="1.6" fill="#e25e1a"/><circle cx="144.80" cy="439.27" r="0.9" fill="#fff" stroke="#bdbdbd" stroke-width="0.4"/><circle cx="193.71" cy="439.27" r="0.9" fill="#fff" stroke="#bdbdbd" stroke-width="0.4"/><circle cx="277.61" cy="439.27" r="0.9" fill="#fff" stroke="#bdbdbd" stroke-width="0.4"/><rect x="431.50" y="429.37" width="46.30" height="19.4" rx="3.3" fill="#fff" stroke="#e06a38" stroke-width="1.2"/><text transform="translate(454.65,446.77) scale(0.71,1)" font-size="19.8" font-weight="bold" fill="#111" text-anchor="middle" stroke="#111" stroke-width="0.25">5.350</text></g>
<g opacity="0.999"><rect x="1" y="482.94" width="131" height="0.8" fill="#d2d2d2"/><rect x="0.9" y="457.44" width="30.2" height="20.6" rx="3.6" fill="#000" opacity="0.34" filter="url(#sh)"/><g transform="translate(1.3,457.54) scale(1.017,1.042)"><g clip-path="url(#fc)"><rect x="0.00" y="0.00" width="29.00" height="6.63" fill="#e2001a"/><rect x="0.00" y="6.33" width="29.00" height="6.63" fill="#ffffff"/><rect x="0.00" y="12.67" width="29.00" height="6.63" fill="#1d5ea8"/></g></g><rect x="1.3" y="457.54" width="29.5" height="19.8" rx="3.3" fill="none" stroke="#000" stroke-opacity="0.10" stroke-width="0.6"/><text x="36.50" y="464.64" font-size="8.6" font-weight="bold" fill="#111" textLength="41.44" lengthAdjust="spacingAndGlyphs" stroke="#111" stroke-width="0.2">HOLANDA</text><text x="36.50" y="477.34" font-size="8.9" font-weight="normal" fill="#2a2a2a" textLength="82.40" lengthAdjust="spacingAndGlyphs" >RIO DE JANEIRO (RJ)</text><rect x="144.45" y="448.44" width="0.7" height="27.80" fill="#bdbdbd"/><text x="146.80" y="453.34" font-size="6.4" font-weight="normal" fill="#2b2b2b" textLength="35.20" lengthAdjust="spacingAndGlyphs" stroke="#2b2b2b" stroke-width="0.28">IDA E VOLTA</text><text x="146.80" y="463.14" font-size="9.7" font-weight="bold" fill="#111" textLength="25.70" lengthAdjust="spacingAndGlyphs" stroke="#111" stroke-width="0.5">Salvador</text><text transform="translate(146.80,473.74) scale(0.93,1)" font-size="9.3" font-weight="normal" fill="#4a4a4a" text-anchor="start" >2.478</text><rect x="266.62" y="448.44" width="0.7" height="27.80" fill="#bdbdbd"/><text x="268.97" y="453.34" font-size="6.4" font-weight="normal" fill="#2b2b2b" textLength="35.20" lengthAdjust="spacingAndGlyphs" stroke="#2b2b2b" stroke-width="0.28">IDA E VOLTA</text><text x="268.97" y="463.14" font-size="9.7" font-weight="bold" fill="#111" textLength="37.50" lengthAdjust="spacingAndGlyphs" stroke="#111" stroke-width="0.5">Porto Alegre</text><text transform="translate(268.97,473.74) scale(0.93,1)" font-size="9.3" font-weight="normal" fill="#4a4a4a" text-anchor="start" >2.292</text><rect x="379.61" y="448.44" width="0.7" height="27.80" fill="#bdbdbd"/><text x="381.96" y="453.34" font-size="6.4" font-weight="normal" fill="#2b2b2b" textLength="35.20" lengthAdjust="spacingAndGlyphs" stroke="#2b2b2b" stroke-width="0.28">IDA E VOLTA</text><text x="381.96" y="463.14" font-size="9.7" font-weight="bold" fill="#111" textLength="28.80" lengthAdjust="spacingAndGlyphs" stroke="#111" stroke-width="0.5">São Paulo</text><text transform="translate(381.96,473.74) scale(0.93,1)" font-size="9.3" font-weight="normal" fill="#4a4a4a" text-anchor="start" >726</text><rect x="414.95" y="475.74" width="25.55" height="1.0" fill="#e6703a"/><rect x="144.60" y="474.64" width="121.37" height="3.2" rx="1.6" fill="#e25e1a"/><rect x="267.67" y="474.64" width="111.30" height="3.2" rx="1.6" fill="#e25e1a"/><rect x="380.66" y="474.64" width="35.29" height="3.2" rx="1.6" fill="#e25e1a"/><circle cx="144.80" cy="476.24" r="0.9" fill="#fff" stroke="#bdbdbd" stroke-width="0.4"/><circle cx="266.97" cy="476.24" r="0.9" fill="#fff" stroke="#bdbdbd" stroke-width="0.4"/><circle cx="379.96" cy="476.24" r="0.9" fill="#fff" stroke="#bdbdbd" stroke-width="0.4"/><rect x="440.50" y="466.34" width="45.70" height="19.4" rx="3.3" fill="#fff" stroke="#e06a38" stroke-width="1.2"/><text transform="translate(463.35,483.74) scale(0.71,1)" font-size="19.8" font-weight="bold" fill="#111" text-anchor="middle" stroke="#111" stroke-width="0.25">5.496</text></g>
<g opacity="0.999"><rect x="1" y="519.21" width="131" height="0.8" fill="#d2d2d2"/><rect x="0.9" y="494.41" width="30.2" height="20.6" rx="3.6" fill="#000" opacity="0.34" filter="url(#sh)"/><g transform="translate(1.3,494.51) scale(1.017,1.042)"><g clip-path="url(#fc)"><rect x="0.00" y="0.00" width="9.97" height="19.00" fill="#4552a8"/><rect x="9.67" y="0.00" width="9.97" height="19.00" fill="#ffffff"/><rect x="19.33" y="0.00" width="9.97" height="19.00" fill="#e2001a"/></g></g><rect x="1.3" y="494.51" width="29.5" height="19.8" rx="3.3" fill="none" stroke="#000" stroke-opacity="0.10" stroke-width="0.6"/><text x="36.50" y="501.61" font-size="8.6" font-weight="bold" fill="#111" textLength="34.40" lengthAdjust="spacingAndGlyphs" stroke="#111" stroke-width="0.2">FRANÇA</text><text x="36.50" y="514.31" font-size="8.9" font-weight="normal" fill="#2a2a2a" textLength="84.32" lengthAdjust="spacingAndGlyphs" >RIBEIRÃO PRETO (SP)</text><rect x="144.45" y="485.41" width="0.7" height="27.80" fill="#bdbdbd"/><text x="146.80" y="490.31" font-size="6.4" font-weight="normal" fill="#2b2b2b" textLength="35.20" lengthAdjust="spacingAndGlyphs" stroke="#2b2b2b" stroke-width="0.28">IDA E VOLTA</text><text x="146.80" y="500.11" font-size="9.7" font-weight="bold" fill="#111" textLength="37.50" lengthAdjust="spacingAndGlyphs" stroke="#111" stroke-width="0.5">Porto Alegre</text><text transform="translate(146.80,510.71) scale(0.93,1)" font-size="9.3" font-weight="normal" fill="#4a4a4a" text-anchor="start" >2.098</text><rect x="247.88" y="485.41" width="0.7" height="27.80" fill="#bdbdbd"/><text x="250.23" y="490.31" font-size="6.4" font-weight="normal" fill="#2b2b2b" textLength="35.20" lengthAdjust="spacingAndGlyphs" stroke="#2b2b2b" stroke-width="0.28">IDA E VOLTA</text><text x="250.23" y="500.11" font-size="9.7" font-weight="bold" fill="#111" textLength="25.70" lengthAdjust="spacingAndGlyphs" stroke="#111" stroke-width="0.5">Salvador</text><text transform="translate(250.23,510.71) scale(0.93,1)" font-size="9.3" font-weight="normal" fill="#4a4a4a" text-anchor="start" >2.734</text><rect x="382.67" y="485.41" width="0.7" height="27.80" fill="#bdbdbd"/><text x="385.02" y="490.31" font-size="6.4" font-weight="normal" fill="#2b2b2b" textLength="35.20" lengthAdjust="spacingAndGlyphs" stroke="#2b2b2b" stroke-width="0.28">IDA E VOLTA</text><text x="385.02" y="500.11" font-size="9.7" font-weight="bold" fill="#111" textLength="9.00" lengthAdjust="spacingAndGlyphs" stroke="#111" stroke-width="0.5">Rio</text><text transform="translate(385.02,510.71) scale(0.93,1)" font-size="9.3" font-weight="normal" fill="#4a4a4a" text-anchor="start" >1.026</text><rect x="432.80" y="512.71" width="18.40" height="1.0" fill="#e6703a"/><rect x="144.60" y="511.61" width="102.63" height="3.2" rx="1.6" fill="#e25e1a"/><rect x="248.93" y="511.61" width="133.09" height="3.2" rx="1.6" fill="#e25e1a"/><rect x="383.72" y="511.61" width="50.08" height="3.2" rx="1.6" fill="#e25e1a"/><circle cx="144.80" cy="513.21" r="0.9" fill="#fff" stroke="#bdbdbd" stroke-width="0.4"/><circle cx="248.23" cy="513.21" r="0.9" fill="#fff" stroke="#bdbdbd" stroke-width="0.4"/><circle cx="383.02" cy="513.21" r="0.9" fill="#fff" stroke="#bdbdbd" stroke-width="0.4"/><rect x="451.20" y="503.31" width="45.60" height="19.4" rx="3.3" fill="#fff" stroke="#e06a38" stroke-width="1.2"/><text transform="translate(474.00,520.71) scale(0.71,1)" font-size="19.8" font-weight="bold" fill="#111" text-anchor="middle" stroke="#111" stroke-width="0.25">5.858</text></g>
<g opacity="0.999"><rect x="1" y="556.78" width="131" height="0.8" fill="#d2d2d2"/><rect x="0.9" y="531.38" width="30.2" height="20.6" rx="3.6" fill="#000" opacity="0.34" filter="url(#sh)"/><g transform="translate(1.3,531.48) scale(1.017,1.042)"><g clip-path="url(#fc)"><rect x="0.00" y="0.00" width="29.00" height="6.63" fill="#111111"/><rect x="0.00" y="6.33" width="29.00" height="6.63" fill="#e2001a"/><rect x="0.00" y="12.67" width="29.00" height="6.63" fill="#ffd90c"/></g></g><rect x="1.3" y="531.48" width="29.5" height="19.8" rx="3.3" fill="none" stroke="#000" stroke-opacity="0.10" stroke-width="0.6"/><text x="36.50" y="538.58" font-size="8.6" font-weight="bold" fill="#111" textLength="47.84" lengthAdjust="spacingAndGlyphs" stroke="#111" stroke-width="0.2">ALEMANHA</text><text x="36.50" y="551.28" font-size="8.9" font-weight="normal" fill="#2a2a2a" textLength="77.12" lengthAdjust="spacingAndGlyphs" >SANTO ANDRÉ (BA)</text><rect x="144.45" y="522.38" width="0.7" height="27.80" fill="#bdbdbd"/><text x="146.80" y="527.28" font-size="6.4" font-weight="normal" fill="#2b2b2b" textLength="35.20" lengthAdjust="spacingAndGlyphs" stroke="#2b2b2b" stroke-width="0.28">IDA E VOLTA</text><text x="146.80" y="537.08" font-size="9.7" font-weight="bold" fill="#111" textLength="25.70" lengthAdjust="spacingAndGlyphs" stroke="#111" stroke-width="0.5">Salvador</text><text transform="translate(146.80,547.68) scale(0.93,1)" font-size="9.3" font-weight="normal" fill="#4a4a4a" text-anchor="start" >1.444</text><rect x="215.64" y="522.38" width="0.7" height="27.80" fill="#bdbdbd"/><text x="217.99" y="527.28" font-size="6.4" font-weight="normal" fill="#2b2b2b" textLength="35.20" lengthAdjust="spacingAndGlyphs" stroke="#2b2b2b" stroke-width="0.28">IDA E VOLTA</text><text x="217.99" y="537.08" font-size="9.7" font-weight="bold" fill="#111" textLength="27.50" lengthAdjust="spacingAndGlyphs" stroke="#111" stroke-width="0.5">Fortaleza</text><text transform="translate(217.99,547.68) scale(0.93,1)" font-size="9.3" font-weight="normal" fill="#4a4a4a" text-anchor="start" >2.828</text><rect x="355.06" y="522.38" width="0.7" height="27.80" fill="#bdbdbd"/><text x="357.41" y="527.28" font-size="6.4" font-weight="normal" fill="#2b2b2b" textLength="35.20" lengthAdjust="spacingAndGlyphs" stroke="#2b2b2b" stroke-width="0.28">IDA E VOLTA</text><text x="357.41" y="537.08" font-size="9.7" font-weight="bold" fill="#111" textLength="18.80" lengthAdjust="spacingAndGlyphs" stroke="#111" stroke-width="0.5">Recife</text><text transform="translate(357.41,547.68) scale(0.93,1)" font-size="9.3" font-weight="normal" fill="#4a4a4a" text-anchor="start" >2.074</text><rect x="456.86" y="549.68" width="5.94" height="1.0" fill="#e6703a"/><rect x="144.60" y="548.58" width="70.39" height="3.2" rx="1.6" fill="#e25e1a"/><rect x="216.69" y="548.58" width="137.72" height="3.2" rx="1.6" fill="#e25e1a"/><rect x="356.11" y="548.58" width="101.75" height="3.2" rx="1.6" fill="#e25e1a"/><circle cx="144.80" cy="550.18" r="0.9" fill="#fff" stroke="#bdbdbd" stroke-width="0.4"/><circle cx="215.99" cy="550.18" r="0.9" fill="#fff" stroke="#bdbdbd" stroke-width="0.4"/><circle cx="355.41" cy="550.18" r="0.9" fill="#fff" stroke="#bdbdbd" stroke-width="0.4"/><rect x="462.80" y="540.28" width="47.40" height="19.4" rx="3.3" fill="#fff" stroke="#e06a38" stroke-width="1.2"/><text transform="translate(486.50,557.68) scale(0.71,1)" font-size="19.8" font-weight="bold" fill="#111" text-anchor="middle" stroke="#111" stroke-width="0.25">6.346</text></g>
<g opacity="0.999"><rect x="1" y="593.80" width="131" height="0.8" fill="#d2d2d2"/><rect x="0.9" y="568.35" width="30.2" height="20.6" rx="3.6" fill="#000" opacity="0.34" filter="url(#sh)"/><g transform="translate(1.3,568.45) scale(1.017,1.042)"><g clip-path="url(#fc)"><rect x="0.00" y="0.00" width="29.00" height="9.80" fill="#ffe600"/><rect x="0.00" y="9.50" width="29.00" height="5.05" fill="#2a7fc9"/><rect x="0.00" y="14.25" width="29.00" height="5.05" fill="#e2001a"/><ellipse cx="14.5" cy="9.2" rx="2.9" ry="3.3" fill="#3a2a10"/><path d="M9.8 6.6 Q14.5 3.0 19.2 6.6 L17.4 8 Q14.5 6 11.6 8 Z" fill="#2b2010"/><circle cx="14.5" cy="9.2" r="1.1" fill="#7a9a50" /></g></g><rect x="1.3" y="568.45" width="29.5" height="19.8" rx="3.3" fill="none" stroke="#000" stroke-opacity="0.10" stroke-width="0.6"/><text x="36.50" y="575.55" font-size="8.6" font-weight="bold" fill="#111" textLength="40.80" lengthAdjust="spacingAndGlyphs" stroke="#111" stroke-width="0.2">EQUADOR</text><text x="36.50" y="588.25" font-size="8.9" font-weight="normal" fill="#2a2a2a" textLength="49.44" lengthAdjust="spacingAndGlyphs" >VIAMÃO (RS)</text><rect x="144.45" y="559.35" width="0.7" height="27.80" fill="#bdbdbd"/><text x="146.80" y="564.25" font-size="6.4" font-weight="normal" fill="#2b2b2b" textLength="35.20" lengthAdjust="spacingAndGlyphs" stroke="#2b2b2b" stroke-width="0.28">IDA E VOLTA</text><text x="146.80" y="574.05" font-size="9.7" font-weight="bold" fill="#111" textLength="22.30" lengthAdjust="spacingAndGlyphs" stroke="#111" stroke-width="0.5">Brasília</text><text transform="translate(146.80,584.65) scale(0.93,1)" font-size="9.3" font-weight="normal" fill="#4a4a4a" text-anchor="start" >3.252</text><rect x="304.77" y="559.35" width="0.7" height="27.80" fill="#bdbdbd"/><text x="307.12" y="564.25" font-size="6.4" font-weight="normal" fill="#2b2b2b" textLength="35.20" lengthAdjust="spacingAndGlyphs" stroke="#2b2b2b" stroke-width="0.28">IDA E VOLTA</text><text x="307.12" y="574.05" font-size="9.7" font-weight="bold" fill="#111" textLength="23.40" lengthAdjust="spacingAndGlyphs" stroke="#111" stroke-width="0.5">Curitiba</text><text transform="translate(307.12,584.65) scale(0.93,1)" font-size="9.3" font-weight="normal" fill="#4a4a4a" text-anchor="start" >1.116</text><rect x="359.79" y="559.35" width="0.7" height="27.80" fill="#bdbdbd"/><text x="362.14" y="564.25" font-size="6.4" font-weight="normal" fill="#2b2b2b" textLength="35.20" lengthAdjust="spacingAndGlyphs" stroke="#2b2b2b" stroke-width="0.28">IDA E VOLTA</text><text x="362.14" y="574.05" font-size="9.7" font-weight="bold" fill="#111" textLength="9.00" lengthAdjust="spacingAndGlyphs" stroke="#111" stroke-width="0.5">Rio</text><text transform="translate(362.14,584.65) scale(0.93,1)" font-size="9.3" font-weight="normal" fill="#4a4a4a" text-anchor="start" >2.292</text><rect x="472.34" y="586.65" width="9.16" height="1.0" fill="#e6703a"/><rect x="144.60" y="585.55" width="159.52" height="3.2" rx="1.6" fill="#e25e1a"/><rect x="305.82" y="585.55" width="53.32" height="3.2" rx="1.6" fill="#e25e1a"/><rect x="360.84" y="585.55" width="112.50" height="3.2" rx="1.6" fill="#e25e1a"/><circle cx="144.80" cy="587.15" r="0.9" fill="#fff" stroke="#bdbdbd" stroke-width="0.4"/><circle cx="305.12" cy="587.15" r="0.9" fill="#fff" stroke="#bdbdbd" stroke-width="0.4"/><circle cx="360.14" cy="587.15" r="0.9" fill="#fff" stroke="#bdbdbd" stroke-width="0.4"/><rect x="481.50" y="577.25" width="46.30" height="19.4" rx="3.3" fill="#fff" stroke="#e06a38" stroke-width="1.2"/><text transform="translate(504.65,594.65) scale(0.71,1)" font-size="19.8" font-weight="bold" fill="#111" text-anchor="middle" stroke="#111" stroke-width="0.25">6.660</text></g>
<g opacity="0.999"><rect x="1" y="631.12" width="131" height="0.8" fill="#d2d2d2"/><rect x="0.9" y="605.32" width="30.2" height="20.6" rx="3.6" fill="#000" opacity="0.34" filter="url(#sh)"/><g transform="translate(1.3,605.42) scale(1.017,1.042)"><g clip-path="url(#fc)"><rect x="0.00" y="0.00" width="29.00" height="19.00" fill="#3b3192"/><polygon points="6,0 23.3,0 23.3,19" fill="#ffcc00"/><polygon points="3.60,-1.80 3.88,-0.99 4.74,-0.97 4.06,-0.45 4.31,0.37 3.60,-0.12 2.89,0.37 3.14,-0.45 2.46,-0.97 3.32,-0.99" fill="#ffffff"/><polygon points="5.65,0.72 5.93,1.54 6.79,1.55 6.11,2.07 6.36,2.90 5.65,2.40 4.94,2.90 5.19,2.07 4.51,1.55 5.37,1.54" fill="#ffffff"/><polygon points="7.70,3.25 7.98,4.06 8.84,4.08 8.16,4.60 8.41,5.42 7.70,4.93 6.99,5.42 7.24,4.60 6.56,4.08 7.42,4.06" fill="#ffffff"/><polygon points="9.75,5.77 10.03,6.59 10.89,6.60 10.21,7.12 10.46,7.95 9.75,7.46 9.04,7.95 9.29,7.12 8.61,6.60 9.47,6.59" fill="#ffffff"/><polygon points="11.80,8.30 12.08,9.11 12.94,9.13 12.26,9.65 12.51,10.47 11.80,9.98 11.09,10.47 11.34,9.65 10.66,9.13 11.52,9.11" fill="#ffffff"/><polygon points="13.85,10.83 14.13,11.64 14.99,11.65 14.31,12.17 14.56,13.00 13.85,12.51 13.14,13.00 13.39,12.17 12.71,11.65 13.57,11.64" fill="#ffffff"/><polygon points="15.90,13.35 16.18,14.16 17.04,14.18 16.36,14.70 16.61,15.52 15.90,15.03 15.19,15.52 15.44,14.70 14.76,14.18 15.62,14.16" fill="#ffffff"/><polygon points="17.95,15.88 18.23,16.69 19.09,16.70 18.41,17.22 18.66,18.05 17.95,17.55 17.24,18.05 17.49,17.22 16.81,16.70 17.67,16.69" fill="#ffffff"/><polygon points="20.00,18.40 20.28,19.21 21.14,19.23 20.46,19.75 20.71,20.57 20.00,20.08 19.29,20.57 19.54,19.75 18.86,19.23 19.72,19.21" fill="#ffffff"/></g></g><rect x="1.3" y="605.42" width="29.5" height="19.8" rx="3.3" fill="none" stroke="#000" stroke-opacity="0.10" stroke-width="0.6"/><text x="36.50" y="612.52" font-size="8.6" font-weight="bold" fill="#111" textLength="31.52" lengthAdjust="spacingAndGlyphs" stroke="#111" stroke-width="0.2">BÓSNIA</text><text x="36.50" y="625.22" font-size="8.9" font-weight="normal" fill="#2a2a2a" textLength="57.44" lengthAdjust="spacingAndGlyphs" >GUARUJÁ (SP)</text><rect x="144.45" y="596.32" width="0.7" height="27.80" fill="#bdbdbd"/><text x="146.80" y="601.22" font-size="6.4" font-weight="normal" fill="#2b2b2b" textLength="35.20" lengthAdjust="spacingAndGlyphs" stroke="#2b2b2b" stroke-width="0.28">IDA E VOLTA</text><text x="146.80" y="611.02" font-size="9.7" font-weight="bold" fill="#111" textLength="9.00" lengthAdjust="spacingAndGlyphs" stroke="#111" stroke-width="0.5">Rio</text><text transform="translate(146.80,621.62) scale(0.93,1)" font-size="9.3" font-weight="normal" fill="#4a4a4a" text-anchor="start" >910</text><rect x="189.31" y="596.32" width="0.7" height="27.80" fill="#bdbdbd"/><text x="191.66" y="601.22" font-size="6.4" font-weight="normal" fill="#2b2b2b" textLength="35.20" lengthAdjust="spacingAndGlyphs" stroke="#2b2b2b" stroke-width="0.28">IDA E VOLTA</text><text x="191.66" y="611.02" font-size="9.7" font-weight="bold" fill="#111" textLength="19.30" lengthAdjust="spacingAndGlyphs" stroke="#111" stroke-width="0.5">Cuiabá</text><text transform="translate(191.66,621.62) scale(0.93,1)" font-size="9.3" font-weight="normal" fill="#4a4a4a" text-anchor="start" >2.892</text><rect x="331.89" y="596.32" width="0.7" height="27.80" fill="#bdbdbd"/><text x="334.24" y="601.22" font-size="6.4" font-weight="normal" fill="#2b2b2b" textLength="35.20" lengthAdjust="spacingAndGlyphs" stroke="#2b2b2b" stroke-width="0.28">IDA E VOLTA</text><text x="334.24" y="611.02" font-size="9.7" font-weight="bold" fill="#111" textLength="25.70" lengthAdjust="spacingAndGlyphs" stroke="#111" stroke-width="0.5">Salvador</text><text transform="translate(334.24,621.62) scale(0.93,1)" font-size="9.3" font-weight="normal" fill="#4a4a4a" text-anchor="start" >3.122</text><rect x="485.35" y="623.62" width="18.45" height="1.0" fill="#e6703a"/><rect x="144.60" y="622.52" width="44.06" height="3.2" rx="1.6" fill="#e25e1a"/><rect x="190.36" y="622.52" width="140.88" height="3.2" rx="1.6" fill="#e25e1a"/><rect x="332.94" y="622.52" width="153.41" height="3.2" rx="1.6" fill="#e25e1a"/><circle cx="144.80" cy="624.12" r="0.9" fill="#fff" stroke="#bdbdbd" stroke-width="0.4"/><circle cx="189.66" cy="624.12" r="0.9" fill="#fff" stroke="#bdbdbd" stroke-width="0.4"/><circle cx="332.24" cy="624.12" r="0.9" fill="#fff" stroke="#bdbdbd" stroke-width="0.4"/><rect x="503.80" y="614.22" width="45.70" height="19.4" rx="3.3" fill="#fff" stroke="#e06a38" stroke-width="1.2"/><text transform="translate(526.65,631.62) scale(0.71,1)" font-size="19.8" font-weight="bold" fill="#111" text-anchor="middle" stroke="#111" stroke-width="0.25">6.924</text></g>
<g opacity="0.999"><rect x="1" y="668.99" width="131" height="0.8" fill="#d2d2d2"/><rect x="0.9" y="642.29" width="30.2" height="20.6" rx="3.6" fill="#000" opacity="0.34" filter="url(#sh)"/><g transform="translate(1.3,642.39) scale(1.017,1.042)"><g clip-path="url(#fc)"><rect x="0.00" y="0.00" width="29.00" height="19.00" fill="#ffffff"/><rect x="12.70" y="0.00" width="3.60" height="19.00" fill="#e2001a"/><rect x="0.00" y="7.70" width="29.00" height="3.60" fill="#e2001a"/></g></g><rect x="1.3" y="642.39" width="29.5" height="19.8" rx="3.3" fill="none" stroke="#000" stroke-opacity="0.10" stroke-width="0.6"/><text x="36.50" y="649.49" font-size="8.6" font-weight="bold" fill="#111" textLength="53.12" lengthAdjust="spacingAndGlyphs" stroke="#111" stroke-width="0.2">INGLATERRA</text><text x="36.50" y="662.19" font-size="8.9" font-weight="normal" fill="#2a2a2a" textLength="82.40" lengthAdjust="spacingAndGlyphs" >RIO DE JANEIRO (RJ)</text><rect x="144.45" y="633.29" width="0.7" height="27.80" fill="#bdbdbd"/><text x="146.80" y="638.19" font-size="6.4" font-weight="normal" fill="#2b2b2b" textLength="35.20" lengthAdjust="spacingAndGlyphs" stroke="#2b2b2b" stroke-width="0.28">IDA E VOLTA</text><text x="146.80" y="647.99" font-size="9.7" font-weight="bold" fill="#111" textLength="22.40" lengthAdjust="spacingAndGlyphs" stroke="#111" stroke-width="0.5">Manaus</text><text transform="translate(146.80,658.59) scale(0.93,1)" font-size="9.3" font-weight="normal" fill="#4a4a4a" text-anchor="start" >5.736</text><rect x="423.45" y="633.29" width="0.7" height="27.80" fill="#bdbdbd"/><text x="425.80" y="638.19" font-size="6.4" font-weight="normal" fill="#2b2b2b" textLength="35.20" lengthAdjust="spacingAndGlyphs" stroke="#2b2b2b" stroke-width="0.28">IDA E VOLTA</text><text x="425.80" y="647.99" font-size="9.7" font-weight="bold" fill="#111" textLength="28.80" lengthAdjust="spacingAndGlyphs" stroke="#111" stroke-width="0.5">São Paulo</text><text transform="translate(425.80,658.59) scale(0.93,1)" font-size="9.3" font-weight="normal" fill="#4a4a4a" text-anchor="start" >730</text><rect x="462.95" y="633.29" width="0.7" height="27.80" fill="#bdbdbd"/><text x="465.30" y="638.19" font-size="6.4" font-weight="normal" fill="#2b2b2b" textLength="35.20" lengthAdjust="spacingAndGlyphs" stroke="#2b2b2b" stroke-width="0.28">IDA E VOLTA</text><text x="465.30" y="647.99" font-size="9.7" font-weight="bold" fill="#111" textLength="36.00" lengthAdjust="spacingAndGlyphs" stroke="#111" stroke-width="0.5">B. Horizonte</text><text transform="translate(465.30,658.59) scale(0.93,1)" font-size="9.3" font-weight="normal" fill="#4a4a4a" text-anchor="start" >724</text><rect x="498.30" y="660.59" width="25.50" height="1.0" fill="#e6703a"/><rect x="144.60" y="659.49" width="278.20" height="3.2" rx="1.6" fill="#e25e1a"/><rect x="424.50" y="659.49" width="37.80" height="3.2" rx="1.6" fill="#e25e1a"/><rect x="464.00" y="659.49" width="35.30" height="3.2" rx="1.6" fill="#e25e1a"/><circle cx="144.80" cy="661.09" r="0.9" fill="#fff" stroke="#bdbdbd" stroke-width="0.4"/><circle cx="423.80" cy="661.09" r="0.9" fill="#fff" stroke="#bdbdbd" stroke-width="0.4"/><circle cx="463.30" cy="661.09" r="0.9" fill="#fff" stroke="#bdbdbd" stroke-width="0.4"/><rect x="523.80" y="651.19" width="43.00" height="19.4" rx="3.3" fill="#fff" stroke="#e06a38" stroke-width="1.2"/><text transform="translate(545.30,668.59) scale(0.71,1)" font-size="19.8" font-weight="bold" fill="#111" text-anchor="middle" stroke="#111" stroke-width="0.25">7.190</text></g>
<g opacity="0.999"><rect x="1" y="704.96" width="131" height="0.8" fill="#d2d2d2"/><rect x="0.9" y="679.26" width="30.2" height="20.6" rx="3.6" fill="#000" opacity="0.34" filter="url(#sh)"/><g transform="translate(1.3,679.36) scale(1.017,1.042)"><g clip-path="url(#fc)"><rect x="0.00" y="0.00" width="29.00" height="19.00" fill="#1c9a48"/><polygon points="14.5,2.6 24.8,9.5 14.5,16.4 4.2,9.5" fill="#ffdd00"/><circle cx="14.5" cy="9.5" r="4.3" fill="#2f77c6" /><path d="M10.7 8.6 Q14.5 7.6 18.3 10.6" stroke="#fff" stroke-width="0.7" fill="none"/></g></g><rect x="1.3" y="679.36" width="29.5" height="19.8" rx="3.3" fill="none" stroke="#000" stroke-opacity="0.10" stroke-width="0.6"/><text x="36.50" y="686.46" font-size="8.6" font-weight="bold" fill="#111" textLength="30.24" lengthAdjust="spacingAndGlyphs" stroke="#111" stroke-width="0.2">BRASIL</text><text x="36.50" y="699.16" font-size="8.9" font-weight="normal" fill="#2a2a2a" textLength="73.60" lengthAdjust="spacingAndGlyphs" >TERESÓPOLIS (RJ)</text><rect x="144.45" y="670.26" width="0.7" height="27.80" fill="#bdbdbd"/><text x="146.80" y="675.16" font-size="6.4" font-weight="normal" fill="#2b2b2b" textLength="35.20" lengthAdjust="spacingAndGlyphs" stroke="#2b2b2b" stroke-width="0.28">IDA E VOLTA</text><text x="146.80" y="684.96" font-size="9.7" font-weight="bold" fill="#111" textLength="28.80" lengthAdjust="spacingAndGlyphs" stroke="#111" stroke-width="0.5">São Paulo</text><text transform="translate(146.80,695.56) scale(0.93,1)" font-size="9.3" font-weight="normal" fill="#4a4a4a" text-anchor="start" >850</text><rect x="186.35" y="670.26" width="0.7" height="27.80" fill="#bdbdbd"/><text x="188.71" y="675.16" font-size="6.4" font-weight="normal" fill="#2b2b2b" textLength="35.20" lengthAdjust="spacingAndGlyphs" stroke="#2b2b2b" stroke-width="0.28">IDA E VOLTA</text><text x="188.71" y="684.96" font-size="9.7" font-weight="bold" fill="#111" textLength="27.50" lengthAdjust="spacingAndGlyphs" stroke="#111" stroke-width="0.5">Fortaleza</text><text transform="translate(188.71,695.56) scale(0.93,1)" font-size="9.3" font-weight="normal" fill="#4a4a4a" text-anchor="start" >4.508</text><rect x="408.60" y="670.26" width="0.7" height="27.80" fill="#bdbdbd"/><text x="410.95" y="675.16" font-size="6.4" font-weight="normal" fill="#2b2b2b" textLength="35.20" lengthAdjust="spacingAndGlyphs" stroke="#2b2b2b" stroke-width="0.28">IDA E VOLTA</text><text x="410.95" y="684.96" font-size="9.7" font-weight="bold" fill="#111" textLength="22.30" lengthAdjust="spacingAndGlyphs" stroke="#111" stroke-width="0.5">Brasília</text><text transform="translate(410.95,695.56) scale(0.93,1)" font-size="9.3" font-weight="normal" fill="#4a4a4a" text-anchor="start" >1.998</text><rect x="506.65" y="697.56" width="33.85" height="1.0" fill="#e6703a"/><rect x="144.60" y="696.46" width="41.11" height="3.2" rx="1.6" fill="#e25e1a"/><rect x="187.41" y="696.46" width="220.54" height="3.2" rx="1.6" fill="#e25e1a"/><rect x="409.65" y="696.46" width="98.00" height="3.2" rx="1.6" fill="#e25e1a"/><circle cx="144.80" cy="698.06" r="0.9" fill="#fff" stroke="#bdbdbd" stroke-width="0.4"/><circle cx="186.71" cy="698.06" r="0.9" fill="#fff" stroke="#bdbdbd" stroke-width="0.4"/><circle cx="408.95" cy="698.06" r="0.9" fill="#fff" stroke="#bdbdbd" stroke-width="0.4"/><rect x="540.50" y="688.16" width="44.00" height="19.4" rx="3.3" fill="#fff" stroke="#e06a38" stroke-width="1.2"/><text transform="translate(562.50,705.56) scale(0.71,1)" font-size="19.8" font-weight="bold" fill="#111" text-anchor="middle" stroke="#111" stroke-width="0.25">7.356</text></g>
<g opacity="0.999"><rect x="1" y="742.13" width="131" height="0.8" fill="#d2d2d2"/><rect x="0.9" y="716.23" width="30.2" height="20.6" rx="3.6" fill="#000" opacity="0.34" filter="url(#sh)"/><g transform="translate(1.3,716.33) scale(1.017,1.042)"><g clip-path="url(#fc)"><rect x="0.00" y="0.00" width="29.00" height="19.00" fill="#1d5ea8"/><rect x="1.2" y="6.2" width="26.6" height="6.6" rx="2.2" fill="#fff"/><polygon points="14.50,8.20 14.88,8.97 15.74,9.10 15.12,9.70 15.26,10.55 14.50,10.15 13.74,10.55 13.88,9.70 13.26,9.10 14.12,8.97" fill="#1d5ea8"/><polygon points="10.20,6.60 10.58,7.37 11.44,7.50 10.82,8.10 10.96,8.95 10.20,8.55 9.44,8.95 9.58,8.10 8.96,7.50 9.82,7.37" fill="#1d5ea8"/><polygon points="10.20,9.80 10.58,10.57 11.44,10.70 10.82,11.30 10.96,12.15 10.20,11.75 9.44,12.15 9.58,11.30 8.96,10.70 9.82,10.57" fill="#1d5ea8"/><polygon points="18.80,6.60 19.18,7.37 20.04,7.50 19.42,8.10 19.56,8.95 18.80,8.55 18.04,8.95 18.18,8.10 17.56,7.50 18.42,7.37" fill="#1d5ea8"/><polygon points="18.80,9.80 19.18,10.57 20.04,10.70 19.42,11.30 19.56,12.15 18.80,11.75 18.04,12.15 18.18,11.30 17.56,10.70 18.42,10.57" fill="#1d5ea8"/></g></g><rect x="1.3" y="716.33" width="29.5" height="19.8" rx="3.3" fill="none" stroke="#000" stroke-opacity="0.10" stroke-width="0.6"/><text x="36.50" y="723.43" font-size="8.6" font-weight="bold" fill="#111" textLength="47.52" lengthAdjust="spacingAndGlyphs" stroke="#111" stroke-width="0.2">HONDURAS</text><text x="36.50" y="736.13" font-size="8.9" font-weight="normal" fill="#2a2a2a" textLength="69.44" lengthAdjust="spacingAndGlyphs" >PORTO FELIZ (SP)</text><rect x="144.45" y="707.23" width="0.7" height="27.80" fill="#bdbdbd"/><text x="146.80" y="712.13" font-size="6.4" font-weight="normal" fill="#2b2b2b" textLength="35.20" lengthAdjust="spacingAndGlyphs" stroke="#2b2b2b" stroke-width="0.28">IDA E VOLTA</text><text x="146.80" y="721.93" font-size="9.7" font-weight="bold" fill="#111" textLength="37.50" lengthAdjust="spacingAndGlyphs" stroke="#111" stroke-width="0.5">Porto Alegre</text><text transform="translate(146.80,732.53) scale(0.93,1)" font-size="9.3" font-weight="normal" fill="#4a4a4a" text-anchor="start" >1.870</text><rect x="236.64" y="707.23" width="0.7" height="27.80" fill="#bdbdbd"/><text x="238.99" y="712.13" font-size="6.4" font-weight="normal" fill="#2b2b2b" textLength="35.20" lengthAdjust="spacingAndGlyphs" stroke="#2b2b2b" stroke-width="0.28">IDA E VOLTA</text><text x="238.99" y="721.93" font-size="9.7" font-weight="bold" fill="#111" textLength="23.40" lengthAdjust="spacingAndGlyphs" stroke="#111" stroke-width="0.5">Curitiba</text><text transform="translate(238.99,732.53) scale(0.93,1)" font-size="9.3" font-weight="normal" fill="#4a4a4a" text-anchor="start" >822</text><rect x="277.17" y="707.23" width="0.7" height="27.80" fill="#bdbdbd"/><text x="279.52" y="712.13" font-size="6.4" font-weight="normal" fill="#2b2b2b" textLength="35.20" lengthAdjust="spacingAndGlyphs" stroke="#2b2b2b" stroke-width="0.28">IDA E VOLTA</text><text x="279.52" y="721.93" font-size="9.7" font-weight="bold" fill="#111" textLength="22.40" lengthAdjust="spacingAndGlyphs" stroke="#111" stroke-width="0.5">Manaus</text><text transform="translate(279.52,732.53) scale(0.93,1)" font-size="9.3" font-weight="normal" fill="#4a4a4a" text-anchor="start" >5.348</text><rect x="540.37" y="734.53" width="25.13" height="1.0" fill="#e6703a"/><rect x="144.60" y="733.43" width="91.39" height="3.2" rx="1.6" fill="#e25e1a"/><rect x="237.69" y="733.43" width="38.82" height="3.2" rx="1.6" fill="#e25e1a"/><rect x="278.22" y="733.43" width="263.16" height="3.2" rx="1.6" fill="#e25e1a"/><circle cx="144.80" cy="735.03" r="0.9" fill="#fff" stroke="#bdbdbd" stroke-width="0.4"/><circle cx="236.99" cy="735.03" r="0.9" fill="#fff" stroke="#bdbdbd" stroke-width="0.4"/><circle cx="277.52" cy="735.03" r="0.9" fill="#fff" stroke="#bdbdbd" stroke-width="0.4"/><rect x="565.50" y="725.13" width="46.70" height="19.4" rx="3.3" fill="#fff" stroke="#e06a38" stroke-width="1.2"/><text transform="translate(588.85,742.53) scale(0.71,1)" font-size="19.8" font-weight="bold" fill="#111" text-anchor="middle" stroke="#111" stroke-width="0.25">8.040</text></g>
<g opacity="0.999"><rect x="1" y="780.10" width="131" height="0.8" fill="#d2d2d2"/><rect x="0.9" y="753.20" width="30.2" height="20.6" rx="3.6" fill="#000" opacity="0.34" filter="url(#sh)"/><g transform="translate(1.3,753.30) scale(1.017,1.042)"><g clip-path="url(#fc)"><rect x="0.00" y="0.00" width="29.00" height="19.00" fill="#ffffff"/><rect x="0.00" y="2.11" width="29.00" height="2.11" fill="#1d5ea8"/><rect x="0.00" y="6.33" width="29.00" height="2.11" fill="#1d5ea8"/><rect x="0.00" y="10.56" width="29.00" height="2.11" fill="#1d5ea8"/><rect x="0.00" y="14.78" width="29.00" height="2.11" fill="#1d5ea8"/><rect x="0.00" y="0.00" width="11.50" height="10.56" fill="#ffffff"/><circle cx="5.6" cy="5.2" r="3.1" fill="#4a3a08" /><circle cx="5.6" cy="5.2" r="1.7" fill="#e0b820" /><line x1="8.00" y1="5.20" x2="9.80" y2="5.20" stroke="#8a7a20" stroke-width="0.6"/><line x1="7.30" y1="6.90" x2="8.57" y2="8.17" stroke="#8a7a20" stroke-width="0.6"/><line x1="5.60" y1="7.60" x2="5.60" y2="9.40" stroke="#8a7a20" stroke-width="0.6"/><line x1="3.90" y1="6.90" x2="2.63" y2="8.17" stroke="#8a7a20" stroke-width="0.6"/><line x1="3.20" y1="5.20" x2="1.40" y2="5.20" stroke="#8a7a20" stroke-width="0.6"/><line x1="3.90" y1="3.50" x2="2.63" y2="2.23" stroke="#8a7a20" stroke-width="0.6"/><line x1="5.60" y1="2.80" x2="5.60" y2="1.00" stroke="#8a7a20" stroke-width="0.6"/><line x1="7.30" y1="3.50" x2="8.57" y2="2.23" stroke="#8a7a20" stroke-width="0.6"/></g></g><rect x="1.3" y="753.30" width="29.5" height="19.8" rx="3.3" fill="none" stroke="#000" stroke-opacity="0.10" stroke-width="0.6"/><text x="36.50" y="760.40" font-size="8.6" font-weight="bold" fill="#111" textLength="38.24" lengthAdjust="spacingAndGlyphs" stroke="#111" stroke-width="0.2">URUGUAI</text><text x="36.50" y="773.10" font-size="8.9" font-weight="normal" fill="#2a2a2a" textLength="76.64" lengthAdjust="spacingAndGlyphs" >SETE LAGOAS (MG)</text><rect x="144.45" y="744.20" width="0.7" height="27.80" fill="#bdbdbd"/><text x="146.80" y="749.10" font-size="6.4" font-weight="normal" fill="#2b2b2b" textLength="35.20" lengthAdjust="spacingAndGlyphs" stroke="#2b2b2b" stroke-width="0.28">IDA E VOLTA</text><text x="146.80" y="758.90" font-size="9.7" font-weight="bold" fill="#111" textLength="27.50" lengthAdjust="spacingAndGlyphs" stroke="#111" stroke-width="0.5">Fortaleza</text><text transform="translate(146.80,769.50) scale(0.93,1)" font-size="9.3" font-weight="normal" fill="#4a4a4a" text-anchor="start" >3.796</text><rect x="331.59" y="744.20" width="0.7" height="27.80" fill="#bdbdbd"/><text x="333.94" y="749.10" font-size="6.4" font-weight="normal" fill="#2b2b2b" textLength="35.20" lengthAdjust="spacingAndGlyphs" stroke="#2b2b2b" stroke-width="0.28">IDA E VOLTA</text><text x="333.94" y="758.90" font-size="9.7" font-weight="bold" fill="#111" textLength="28.80" lengthAdjust="spacingAndGlyphs" stroke="#111" stroke-width="0.5">São Paulo</text><text transform="translate(333.94,769.50) scale(0.93,1)" font-size="9.3" font-weight="normal" fill="#4a4a4a" text-anchor="start" >1.086</text><rect x="385.13" y="744.20" width="0.7" height="27.80" fill="#bdbdbd"/><text x="387.48" y="749.10" font-size="6.4" font-weight="normal" fill="#2b2b2b" textLength="35.20" lengthAdjust="spacingAndGlyphs" stroke="#2b2b2b" stroke-width="0.28">IDA E VOLTA</text><text x="387.48" y="758.90" font-size="9.7" font-weight="bold" fill="#111" textLength="15.70" lengthAdjust="spacingAndGlyphs" stroke="#111" stroke-width="0.5">Natal</text><text transform="translate(387.48,769.50) scale(0.93,1)" font-size="9.3" font-weight="normal" fill="#4a4a4a" text-anchor="start" >3.670</text><rect x="565.61" y="771.50" width="12.19" height="1.0" fill="#e6703a"/><rect x="144.60" y="770.40" width="186.34" height="3.2" rx="1.6" fill="#e25e1a"/><rect x="332.64" y="770.40" width="51.84" height="3.2" rx="1.6" fill="#e25e1a"/><rect x="386.18" y="770.40" width="180.43" height="3.2" rx="1.6" fill="#e25e1a"/><circle cx="144.80" cy="772.00" r="0.9" fill="#fff" stroke="#bdbdbd" stroke-width="0.4"/><circle cx="331.94" cy="772.00" r="0.9" fill="#fff" stroke="#bdbdbd" stroke-width="0.4"/><circle cx="385.48" cy="772.00" r="0.9" fill="#fff" stroke="#bdbdbd" stroke-width="0.4"/><rect x="577.80" y="762.10" width="45.00" height="19.4" rx="3.3" fill="#fff" stroke="#e06a38" stroke-width="1.2"/><text transform="translate(600.30,779.50) scale(0.71,1)" font-size="19.8" font-weight="bold" fill="#111" text-anchor="middle" stroke="#111" stroke-width="0.25">8.552</text></g>
<g opacity="0.999"><rect x="1" y="817.17" width="131" height="0.8" fill="#d2d2d2"/><rect x="0.9" y="790.17" width="30.2" height="20.6" rx="3.6" fill="#000" opacity="0.34" filter="url(#sh)"/><g transform="translate(1.3,790.27) scale(1.017,1.042)"><g clip-path="url(#fc)"><rect x="0.00" y="0.00" width="29.00" height="19.00" fill="#3b3192"/><g><rect x="0" y="0" width="14.5" height="9.5" fill="#3b3192"/><path d="M0 0 L14.5 9.5 M14.5 0 L0 9.5" stroke="#fff" stroke-width="2"/><path d="M0 0 L14.5 9.5 M14.5 0 L0 9.5" stroke="#e2001a" stroke-width="0.8"/><path d="M7.25 0 V9.5 M0 4.75 H14.5" stroke="#fff" stroke-width="3"/><path d="M7.25 0 V9.5 M0 4.75 H14.5" stroke="#e2001a" stroke-width="1.7"/></g><polygon points="7.20,11.60 7.99,13.21 9.77,13.47 8.48,14.72 8.79,16.48 7.20,15.65 5.61,16.48 5.92,14.72 4.63,13.47 6.41,13.21" fill="#ffffff"/><polygon points="22.00,2.10 22.41,2.93 23.33,3.07 22.67,3.72 22.82,4.63 22.00,4.20 21.18,4.63 21.33,3.72 20.67,3.07 21.59,2.93" fill="#ffffff"/><polygon points="18.50,6.90 18.91,7.73 19.83,7.87 19.17,8.52 19.32,9.43 18.50,9.00 17.68,9.43 17.83,8.52 17.17,7.87 18.09,7.73" fill="#ffffff"/><polygon points="25.80,5.60 26.21,6.43 27.13,6.57 26.47,7.22 26.62,8.13 25.80,7.70 24.98,8.13 25.13,7.22 24.47,6.57 25.39,6.43" fill="#ffffff"/><polygon points="22.00,14.00 22.44,14.89 23.43,15.04 22.71,15.73 22.88,16.71 22.00,16.25 21.12,16.71 21.29,15.73 20.57,15.04 21.56,14.89" fill="#ffffff"/><polygon points="24.20,9.90 24.46,10.44 25.06,10.52 24.63,10.94 24.73,11.53 24.20,11.25 23.67,11.53 23.77,10.94 23.34,10.52 23.94,10.44" fill="#ffffff"/></g></g><rect x="1.3" y="790.27" width="29.5" height="19.8" rx="3.3" fill="none" stroke="#000" stroke-opacity="0.10" stroke-width="0.6"/><text x="36.50" y="797.37" font-size="8.6" font-weight="bold" fill="#111" textLength="47.52" lengthAdjust="spacingAndGlyphs" stroke="#111" stroke-width="0.2">AUSTRÁLIA</text><text x="36.50" y="810.07" font-size="8.9" font-weight="normal" fill="#2a2a2a" textLength="49.12" lengthAdjust="spacingAndGlyphs" >VITÓRIA (ES)</text><rect x="144.45" y="781.17" width="0.7" height="27.80" fill="#bdbdbd"/><text x="146.80" y="786.07" font-size="6.4" font-weight="normal" fill="#2b2b2b" textLength="35.20" lengthAdjust="spacingAndGlyphs" stroke="#2b2b2b" stroke-width="0.28">IDA E VOLTA</text><text x="146.80" y="795.87" font-size="9.7" font-weight="bold" fill="#111" textLength="19.30" lengthAdjust="spacingAndGlyphs" stroke="#111" stroke-width="0.5">Cuiabá</text><text transform="translate(146.80,806.47) scale(0.93,1)" font-size="9.3" font-weight="normal" fill="#4a4a4a" text-anchor="start" >3.518</text><rect x="317.89" y="781.17" width="0.7" height="27.80" fill="#bdbdbd"/><text x="320.24" y="786.07" font-size="6.4" font-weight="normal" fill="#d0313d" textLength="35.20" lengthAdjust="spacingAndGlyphs" stroke="#d0313d" stroke-width="0.28">IDA E VOLTA</text><text x="320.24" y="795.87" font-size="9.7" font-weight="bold" fill="#111" textLength="37.50" lengthAdjust="spacingAndGlyphs" stroke="#111" stroke-width="0.5">Porto Alegre</text><text transform="translate(320.24,806.47) scale(0.93,1)" font-size="9.3" font-weight="normal" fill="#4a4a4a" text-anchor="start" >3.088</text><rect x="470.13" y="781.17" width="0.7" height="27.80" fill="#bdbdbd"/><text x="472.48" y="786.07" font-size="6.4" font-weight="normal" fill="#2b2b2b" textLength="35.20" lengthAdjust="spacingAndGlyphs" stroke="#2b2b2b" stroke-width="0.28">IDA E VOLTA</text><text x="472.48" y="795.87" font-size="9.7" font-weight="bold" fill="#111" textLength="23.40" lengthAdjust="spacingAndGlyphs" stroke="#111" stroke-width="0.5">Curitiba</text><text transform="translate(472.48,806.47) scale(0.93,1)" font-size="9.3" font-weight="normal" fill="#4a4a4a" text-anchor="start" >2.178</text><rect x="577.05" y="808.47" width="12.45" height="1.0" fill="#e6703a"/><rect x="144.60" y="807.37" width="172.64" height="3.2" rx="1.6" fill="#e25e1a"/><rect x="318.94" y="807.37" width="150.54" height="3.2" rx="1.6" fill="#e25e1a"/><rect x="471.18" y="807.37" width="106.88" height="3.2" rx="1.6" fill="#e25e1a"/><circle cx="144.80" cy="808.97" r="0.9" fill="#fff" stroke="#bdbdbd" stroke-width="0.4"/><circle cx="318.24" cy="808.97" r="0.9" fill="#fff" stroke="#bdbdbd" stroke-width="0.4"/><circle cx="470.48" cy="808.97" r="0.9" fill="#fff" stroke="#bdbdbd" stroke-width="0.4"/><rect x="589.50" y="799.07" width="46.00" height="19.4" rx="3.3" fill="#fff" stroke="#e06a38" stroke-width="1.2"/><text transform="translate(612.50,816.47) scale(0.71,1)" font-size="19.8" font-weight="bold" fill="#111" text-anchor="middle" stroke="#111" stroke-width="0.25">8.784</text></g>
<g opacity="0.999"><rect x="1" y="854.04" width="131" height="0.8" fill="#d2d2d2"/><rect x="0.9" y="827.14" width="30.2" height="20.6" rx="3.6" fill="#000" opacity="0.34" filter="url(#sh)"/><g transform="translate(1.3,827.24) scale(1.017,1.042)"><g clip-path="url(#fc)"><rect x="0.00" y="0.00" width="29.00" height="19.00" fill="#e2001a"/><rect x="12.40" y="3.80" width="4.20" height="11.40" fill="#ffffff"/><rect x="8.80" y="7.40" width="11.40" height="4.20" fill="#ffffff"/></g></g><rect x="1.3" y="827.24" width="29.5" height="19.8" rx="3.3" fill="none" stroke="#000" stroke-opacity="0.10" stroke-width="0.6"/><text x="36.50" y="834.34" font-size="8.6" font-weight="bold" fill="#111" textLength="25.44" lengthAdjust="spacingAndGlyphs" stroke="#111" stroke-width="0.2">SUÍÇA</text><text x="36.50" y="847.04" font-size="8.9" font-weight="normal" fill="#2a2a2a" textLength="81.44" lengthAdjust="spacingAndGlyphs" >PORTO SEGURO (BA)</text><rect x="144.45" y="818.14" width="0.7" height="27.80" fill="#bdbdbd"/><text x="146.80" y="823.04" font-size="6.4" font-weight="normal" fill="#2b2b2b" textLength="35.20" lengthAdjust="spacingAndGlyphs" stroke="#2b2b2b" stroke-width="0.28">IDA E VOLTA</text><text x="146.80" y="832.84" font-size="9.7" font-weight="bold" fill="#111" textLength="22.30" lengthAdjust="spacingAndGlyphs" stroke="#111" stroke-width="0.5">Brasília</text><text transform="translate(146.80,843.44) scale(0.93,1)" font-size="9.3" font-weight="normal" fill="#4a4a4a" text-anchor="start" >1.922</text><rect x="239.20" y="818.14" width="0.7" height="27.80" fill="#bdbdbd"/><text x="241.55" y="823.04" font-size="6.4" font-weight="normal" fill="#2b2b2b" textLength="35.20" lengthAdjust="spacingAndGlyphs" stroke="#2b2b2b" stroke-width="0.28">IDA E VOLTA</text><text x="241.55" y="832.84" font-size="9.7" font-weight="bold" fill="#111" textLength="25.70" lengthAdjust="spacingAndGlyphs" stroke="#111" stroke-width="0.5">Salvador</text><text transform="translate(241.55,843.44) scale(0.93,1)" font-size="9.3" font-weight="normal" fill="#4a4a4a" text-anchor="start" >1.444</text><rect x="310.39" y="818.14" width="0.7" height="27.80" fill="#bdbdbd"/><text x="312.74" y="823.04" font-size="6.4" font-weight="normal" fill="#2b2b2b" textLength="35.20" lengthAdjust="spacingAndGlyphs" stroke="#2b2b2b" stroke-width="0.28">IDA E VOLTA</text><text x="312.74" y="832.84" font-size="9.7" font-weight="bold" fill="#111" textLength="22.40" lengthAdjust="spacingAndGlyphs" stroke="#111" stroke-width="0.5">Manaus</text><text transform="translate(312.74,843.44) scale(0.93,1)" font-size="9.3" font-weight="normal" fill="#4a4a4a" text-anchor="start" >5.488</text><rect x="580.50" y="845.44" width="25.50" height="1.0" fill="#e6703a"/><rect x="144.60" y="844.34" width="93.95" height="3.2" rx="1.6" fill="#e25e1a"/><rect x="240.25" y="844.34" width="69.49" height="3.2" rx="1.6" fill="#e25e1a"/><rect x="311.44" y="844.34" width="270.06" height="3.2" rx="1.6" fill="#e25e1a"/><circle cx="144.80" cy="845.94" r="0.9" fill="#fff" stroke="#bdbdbd" stroke-width="0.4"/><circle cx="239.55" cy="845.94" r="0.9" fill="#fff" stroke="#bdbdbd" stroke-width="0.4"/><circle cx="310.74" cy="845.94" r="0.9" fill="#fff" stroke="#bdbdbd" stroke-width="0.4"/><rect x="606.00" y="836.04" width="44.50" height="19.4" rx="3.3" fill="#fff" stroke="#e06a38" stroke-width="1.2"/><text transform="translate(628.25,853.44) scale(0.71,1)" font-size="19.8" font-weight="bold" fill="#111" text-anchor="middle" stroke="#111" stroke-width="0.25">8.854</text></g>
<g opacity="0.999"><rect x="1" y="891.61" width="131" height="0.8" fill="#d2d2d2"/><rect x="0.9" y="864.11" width="30.2" height="20.6" rx="3.6" fill="#000" opacity="0.34" filter="url(#sh)"/><g transform="translate(1.3,864.21) scale(1.017,1.042)"><g clip-path="url(#fc)"><rect x="0.00" y="0.00" width="29.00" height="6.63" fill="#e2001a"/><rect x="0.00" y="6.33" width="29.00" height="6.63" fill="#ffffff"/><rect x="0.00" y="12.67" width="29.00" height="6.63" fill="#1d5ea8"/><path d="M10.6 4.4 H18.4 V11.8 Q18.4 15.4 14.5 16.0 Q10.6 15.4 10.6 11.8 Z" fill="#fff" stroke="#e2001a" stroke-width="0.3"/><rect x="10.60" y="4.40" width="1.56" height="1.56" fill="#e2001a" clip-path="url(#crs)"/><rect x="13.72" y="4.40" width="1.56" height="1.56" fill="#e2001a" clip-path="url(#crs)"/><rect x="16.84" y="4.40" width="1.56" height="1.56" fill="#e2001a" clip-path="url(#crs)"/><rect x="12.16" y="5.96" width="1.56" height="1.56" fill="#e2001a" clip-path="url(#crs)"/><rect x="15.28" y="5.96" width="1.56" height="1.56" fill="#e2001a" clip-path="url(#crs)"/><rect x="10.60" y="7.52" width="1.56" height="1.56" fill="#e2001a" clip-path="url(#crs)"/><rect x="13.72" y="7.52" width="1.56" height="1.56" fill="#e2001a" clip-path="url(#crs)"/><rect x="16.84" y="7.52" width="1.56" height="1.56" fill="#e2001a" clip-path="url(#crs)"/><rect x="12.16" y="9.08" width="1.56" height="1.56" fill="#e2001a" clip-path="url(#crs)"/><rect x="15.28" y="9.08" width="1.56" height="1.56" fill="#e2001a" clip-path="url(#crs)"/><rect x="10.60" y="10.64" width="1.56" height="1.56" fill="#e2001a" clip-path="url(#crs)"/><rect x="13.72" y="10.64" width="1.56" height="1.56" fill="#e2001a" clip-path="url(#crs)"/><rect x="16.84" y="10.64" width="1.56" height="1.56" fill="#e2001a" clip-path="url(#crs)"/><rect x="12.16" y="12.20" width="1.56" height="1.56" fill="#e2001a" clip-path="url(#crs)"/><rect x="15.28" y="12.20" width="1.56" height="1.56" fill="#e2001a" clip-path="url(#crs)"/><rect x="10.60" y="13.76" width="1.56" height="1.56" fill="#e2001a" clip-path="url(#crs)"/><rect x="13.72" y="13.76" width="1.56" height="1.56" fill="#e2001a" clip-path="url(#crs)"/><rect x="16.84" y="13.76" width="1.56" height="1.56" fill="#e2001a" clip-path="url(#crs)"/><rect x="12.16" y="15.32" width="1.56" height="1.56" fill="#e2001a" clip-path="url(#crs)"/><rect x="15.28" y="15.32" width="1.56" height="1.56" fill="#e2001a" clip-path="url(#crs)"/><path d="M10.2 4.4 L10.9 2.4 L12.6 3.3 L14.5 2.2 L16.4 3.3 L18.1 2.4 L18.8 4.4 Z" fill="#27305a"/></g></g><rect x="1.3" y="864.21" width="29.5" height="19.8" rx="3.3" fill="none" stroke="#000" stroke-opacity="0.10" stroke-width="0.6"/><text x="36.50" y="871.31" font-size="8.6" font-weight="bold" fill="#111" textLength="37.44" lengthAdjust="spacingAndGlyphs" stroke="#111" stroke-width="0.2">CROÁCIA</text><text x="36.50" y="884.01" font-size="8.9" font-weight="normal" fill="#2a2a2a" textLength="97.60" lengthAdjust="spacingAndGlyphs" >MATA DE SÃO JOÃO (BA)</text><rect x="144.45" y="855.11" width="0.7" height="27.80" fill="#bdbdbd"/><text x="146.80" y="860.01" font-size="6.4" font-weight="normal" fill="#2b2b2b" textLength="35.20" lengthAdjust="spacingAndGlyphs" stroke="#2b2b2b" stroke-width="0.28">IDA E VOLTA</text><text x="146.80" y="869.81" font-size="9.7" font-weight="bold" fill="#111" textLength="28.80" lengthAdjust="spacingAndGlyphs" stroke="#111" stroke-width="0.5">São Paulo</text><text transform="translate(146.80,880.41) scale(0.93,1)" font-size="9.3" font-weight="normal" fill="#4a4a4a" text-anchor="start" >3.014</text><rect x="293.04" y="855.11" width="0.7" height="27.80" fill="#bdbdbd"/><text x="295.39" y="860.01" font-size="6.4" font-weight="normal" fill="#2b2b2b" textLength="35.20" lengthAdjust="spacingAndGlyphs" stroke="#2b2b2b" stroke-width="0.28">IDA E VOLTA</text><text x="295.39" y="869.81" font-size="9.7" font-weight="bold" fill="#111" textLength="22.40" lengthAdjust="spacingAndGlyphs" stroke="#111" stroke-width="0.5">Manaus</text><text transform="translate(295.39,880.41) scale(0.93,1)" font-size="9.3" font-weight="normal" fill="#4a4a4a" text-anchor="start" >5.376</text><rect x="558.08" y="855.11" width="0.7" height="27.80" fill="#bdbdbd"/><text x="560.43" y="860.01" font-size="6.4" font-weight="normal" fill="#2b2b2b" textLength="35.20" lengthAdjust="spacingAndGlyphs" stroke="#2b2b2b" stroke-width="0.28">IDA E VOLTA</text><text x="560.43" y="869.81" font-size="9.7" font-weight="bold" fill="#111" textLength="18.80" lengthAdjust="spacingAndGlyphs" stroke="#111" stroke-width="0.5">Recife</text><text transform="translate(560.43,880.41) scale(0.93,1)" font-size="9.3" font-weight="normal" fill="#4a4a4a" text-anchor="start" >1.410</text><rect x="627.14" y="882.41" width="15.06" height="1.0" fill="#e6703a"/><rect x="144.60" y="881.31" width="147.79" height="3.2" rx="1.6" fill="#e25e1a"/><rect x="294.09" y="881.31" width="263.34" height="3.2" rx="1.6" fill="#e25e1a"/><rect x="559.13" y="881.31" width="69.01" height="3.2" rx="1.6" fill="#e25e1a"/><circle cx="144.80" cy="882.91" r="0.9" fill="#fff" stroke="#bdbdbd" stroke-width="0.4"/><circle cx="293.39" cy="882.91" r="0.9" fill="#fff" stroke="#bdbdbd" stroke-width="0.4"/><circle cx="558.43" cy="882.91" r="0.9" fill="#fff" stroke="#bdbdbd" stroke-width="0.4"/><rect x="642.20" y="873.01" width="45.60" height="19.4" rx="3.3" fill="#fff" stroke="#e06a38" stroke-width="1.2"/><text transform="translate(665.00,890.41) scale(0.71,1)" font-size="19.8" font-weight="bold" fill="#111" text-anchor="middle" stroke="#111" stroke-width="0.25">9.800</text></g>
<g opacity="0.999"><rect x="1" y="927.08" width="131" height="0.8" fill="#d2d2d2"/><rect x="0.9" y="901.08" width="30.2" height="20.6" rx="3.6" fill="#000" opacity="0.34" filter="url(#sh)"/><g transform="translate(1.3,901.18) scale(1.017,1.042)"><g clip-path="url(#fc)"><rect x="0.00" y="0.00" width="11.60" height="19.00" fill="#6cb33f"/><rect x="11.60" y="0.00" width="17.40" height="19.00" fill="#e2001a"/><circle cx="11.6" cy="9.5" r="4.2" fill="#ffdd00" /><circle cx="11.6" cy="9.5" r="3.0" fill="#3a2a05" /><circle cx="11.6" cy="9.5" r="1.9" fill="#d9b020" /><circle cx="11.6" cy="9.5" r="1.0" fill="#a01010" /></g></g><rect x="1.3" y="901.18" width="29.5" height="19.8" rx="3.3" fill="none" stroke="#000" stroke-opacity="0.10" stroke-width="0.6"/><text x="36.50" y="908.28" font-size="8.6" font-weight="bold" fill="#111" textLength="45.12" lengthAdjust="spacingAndGlyphs" stroke="#111" stroke-width="0.2">PORTUGAL</text><text x="36.50" y="920.98" font-size="8.9" font-weight="normal" fill="#2a2a2a" textLength="60.64" lengthAdjust="spacingAndGlyphs" >CAMPINAS (SP)</text><rect x="144.45" y="892.08" width="0.7" height="27.80" fill="#bdbdbd"/><text x="146.80" y="896.98" font-size="6.4" font-weight="normal" fill="#2b2b2b" textLength="35.20" lengthAdjust="spacingAndGlyphs" stroke="#2b2b2b" stroke-width="0.28">IDA E VOLTA</text><text x="146.80" y="906.78" font-size="9.7" font-weight="bold" fill="#111" textLength="25.70" lengthAdjust="spacingAndGlyphs" stroke="#111" stroke-width="0.5">Salvador</text><text transform="translate(146.80,917.38) scale(0.93,1)" font-size="9.3" font-weight="normal" fill="#4a4a4a" text-anchor="start" >2.948</text><rect x="289.79" y="892.08" width="0.7" height="27.80" fill="#bdbdbd"/><text x="292.14" y="896.98" font-size="6.4" font-weight="normal" fill="#2b2b2b" textLength="35.20" lengthAdjust="spacingAndGlyphs" stroke="#2b2b2b" stroke-width="0.28">IDA E VOLTA</text><text x="292.14" y="906.78" font-size="9.7" font-weight="bold" fill="#111" textLength="22.40" lengthAdjust="spacingAndGlyphs" stroke="#111" stroke-width="0.5">Manaus</text><text transform="translate(292.14,917.38) scale(0.93,1)" font-size="9.3" font-weight="normal" fill="#4a4a4a" text-anchor="start" >5.260</text><rect x="549.10" y="892.08" width="0.7" height="27.80" fill="#bdbdbd"/><text x="551.45" y="896.98" font-size="6.4" font-weight="normal" fill="#2b2b2b" textLength="35.20" lengthAdjust="spacingAndGlyphs" stroke="#2b2b2b" stroke-width="0.28">IDA E VOLTA</text><text x="551.45" y="906.78" font-size="9.7" font-weight="bold" fill="#111" textLength="22.30" lengthAdjust="spacingAndGlyphs" stroke="#111" stroke-width="0.5">Brasília</text><text transform="translate(551.45,917.38) scale(0.93,1)" font-size="9.3" font-weight="normal" fill="#4a4a4a" text-anchor="start" >1.626</text><rect x="628.82" y="919.38" width="35.98" height="1.0" fill="#e6703a"/><rect x="144.60" y="918.28" width="144.54" height="3.2" rx="1.6" fill="#e25e1a"/><rect x="290.84" y="918.28" width="257.62" height="3.2" rx="1.6" fill="#e25e1a"/><rect x="550.15" y="918.28" width="79.66" height="3.2" rx="1.6" fill="#e25e1a"/><circle cx="144.80" cy="919.88" r="0.9" fill="#fff" stroke="#bdbdbd" stroke-width="0.4"/><circle cx="290.14" cy="919.88" r="0.9" fill="#fff" stroke="#bdbdbd" stroke-width="0.4"/><circle cx="549.45" cy="919.88" r="0.9" fill="#fff" stroke="#bdbdbd" stroke-width="0.4"/><rect x="664.80" y="909.98" width="43.00" height="19.4" rx="3.3" fill="#fff" stroke="#e06a38" stroke-width="1.2"/><text transform="translate(686.30,927.38) scale(0.71,1)" font-size="19.8" font-weight="bold" fill="#111" text-anchor="middle" stroke="#111" stroke-width="0.25">9.834</text></g>
<g opacity="0.999"><rect x="1" y="963.00" width="131" height="0.8" fill="#d2d2d2"/><rect x="0.9" y="938.05" width="30.2" height="20.6" rx="3.6" fill="#000" opacity="0.34" filter="url(#sh)"/><g transform="translate(1.3,938.15) scale(1.017,1.042)"><g clip-path="url(#fc)"><rect x="0.00" y="0.00" width="29.00" height="3.53" fill="#1b4a9c"/><rect x="0.00" y="3.23" width="29.00" height="3.15" fill="#ffffff"/><rect x="0.00" y="6.08" width="29.00" height="7.14" fill="#e2001a"/><rect x="0.00" y="12.92" width="29.00" height="3.15" fill="#ffffff"/><rect x="0.00" y="15.77" width="29.00" height="3.53" fill="#1b4a9c"/><ellipse cx="5" cy="9.5" rx="1.7" ry="2.1" fill="#fff"/><ellipse cx="5" cy="9.5" rx="1.0" ry="1.4" fill="#8a5a3a"/></g></g><rect x="1.3" y="938.15" width="29.5" height="19.8" rx="3.3" fill="none" stroke="#000" stroke-opacity="0.10" stroke-width="0.6"/><text x="36.50" y="945.25" font-size="8.6" font-weight="bold" fill="#111" textLength="49.44" lengthAdjust="spacingAndGlyphs" stroke="#111" stroke-width="0.2">COSTA RICA</text><text x="36.50" y="957.95" font-size="8.9" font-weight="normal" fill="#2a2a2a" textLength="51.04" lengthAdjust="spacingAndGlyphs" >SANTOS (SP)</text><rect x="144.45" y="929.05" width="0.7" height="27.80" fill="#bdbdbd"/><text x="146.80" y="933.95" font-size="6.4" font-weight="normal" fill="#2b2b2b" textLength="35.20" lengthAdjust="spacingAndGlyphs" stroke="#2b2b2b" stroke-width="0.28">IDA E VOLTA</text><text x="146.80" y="943.75" font-size="9.7" font-weight="bold" fill="#111" textLength="27.50" lengthAdjust="spacingAndGlyphs" stroke="#111" stroke-width="0.5">Fortaleza</text><text transform="translate(146.80,954.35) scale(0.93,1)" font-size="9.3" font-weight="normal" fill="#4a4a4a" text-anchor="start" >4.880</text><rect x="385.03" y="929.05" width="0.7" height="27.80" fill="#bdbdbd"/><text x="387.38" y="933.95" font-size="6.4" font-weight="normal" fill="#2b2b2b" textLength="35.20" lengthAdjust="spacingAndGlyphs" stroke="#2b2b2b" stroke-width="0.28">IDA E VOLTA</text><text x="387.38" y="943.75" font-size="9.7" font-weight="bold" fill="#111" textLength="18.80" lengthAdjust="spacingAndGlyphs" stroke="#111" stroke-width="0.5">Recife</text><text transform="translate(387.38,954.35) scale(0.93,1)" font-size="9.3" font-weight="normal" fill="#4a4a4a" text-anchor="start" >4.396</text><rect x="601.76" y="929.05" width="0.7" height="27.80" fill="#bdbdbd"/><text x="604.11" y="933.95" font-size="6.4" font-weight="normal" fill="#2b2b2b" textLength="35.20" lengthAdjust="spacingAndGlyphs" stroke="#2b2b2b" stroke-width="0.28">IDA E VOLTA</text><text x="604.11" y="943.75" font-size="9.7" font-weight="bold" fill="#111" textLength="36.00" lengthAdjust="spacingAndGlyphs" stroke="#111" stroke-width="0.5">B. Horizonte</text><text transform="translate(604.11,954.35) scale(0.93,1)" font-size="9.3" font-weight="normal" fill="#4a4a4a" text-anchor="start" >1.196</text><rect x="660.27" y="956.35" width="21.23" height="1.0" fill="#e6703a"/><rect x="144.60" y="955.25" width="239.78" height="3.2" rx="1.6" fill="#e25e1a"/><rect x="386.08" y="955.25" width="215.02" height="3.2" rx="1.6" fill="#e25e1a"/><rect x="602.81" y="955.25" width="58.46" height="3.2" rx="1.6" fill="#e25e1a"/><circle cx="144.80" cy="956.85" r="0.9" fill="#fff" stroke="#bdbdbd" stroke-width="0.4"/><circle cx="385.38" cy="956.85" r="0.9" fill="#fff" stroke="#bdbdbd" stroke-width="0.4"/><circle cx="602.11" cy="956.85" r="0.9" fill="#fff" stroke="#bdbdbd" stroke-width="0.4"/><rect x="681.50" y="946.95" width="52.30" height="19.4" rx="3.3" fill="#fff" stroke="#e06a38" stroke-width="1.2"/><text transform="translate(707.65,964.35) scale(0.71,1)" font-size="19.8" font-weight="bold" fill="#111" text-anchor="middle" stroke="#111" stroke-width="0.25">10.472</text></g>
<g opacity="0.999"><rect x="1" y="1001.12" width="131" height="0.8" fill="#d2d2d2"/><rect x="0.9" y="975.02" width="30.2" height="20.6" rx="3.6" fill="#000" opacity="0.34" filter="url(#sh)"/><g transform="translate(1.3,975.12) scale(1.017,1.042)"><g clip-path="url(#fc)"><rect x="0.00" y="0.00" width="9.97" height="19.00" fill="#6cb33f"/><rect x="9.67" y="0.00" width="9.97" height="19.00" fill="#e2001a"/><rect x="19.33" y="0.00" width="9.97" height="19.00" fill="#ffe600"/><polygon points="14.50,6.90 15.18,8.86 17.26,8.90 15.60,10.16 16.20,12.15 14.50,10.96 12.80,12.15 13.40,10.16 11.74,8.90 13.82,8.86" fill="#ffe600"/></g></g><rect x="1.3" y="975.12" width="29.5" height="19.8" rx="3.3" fill="none" stroke="#000" stroke-opacity="0.10" stroke-width="0.6"/><text x="36.50" y="982.22" font-size="8.6" font-weight="bold" fill="#111" textLength="47.52" lengthAdjust="spacingAndGlyphs" stroke="#111" stroke-width="0.2">CAMARÕES</text><text x="36.50" y="994.92" font-size="8.9" font-weight="normal" fill="#2a2a2a" textLength="49.12" lengthAdjust="spacingAndGlyphs" >VITÓRIA (ES)</text><rect x="144.45" y="966.02" width="0.7" height="27.80" fill="#bdbdbd"/><text x="146.80" y="970.92" font-size="6.4" font-weight="normal" fill="#2b2b2b" textLength="35.20" lengthAdjust="spacingAndGlyphs" stroke="#2b2b2b" stroke-width="0.28">IDA E VOLTA</text><text x="146.80" y="980.72" font-size="9.7" font-weight="bold" fill="#111" textLength="15.70" lengthAdjust="spacingAndGlyphs" stroke="#111" stroke-width="0.5">Natal</text><text transform="translate(146.80,991.32) scale(0.93,1)" font-size="9.3" font-weight="normal" fill="#4a4a4a" text-anchor="start" >3.372</text><rect x="310.69" y="966.02" width="0.7" height="27.80" fill="#bdbdbd"/><text x="313.04" y="970.92" font-size="6.4" font-weight="normal" fill="#2b2b2b" textLength="35.20" lengthAdjust="spacingAndGlyphs" stroke="#2b2b2b" stroke-width="0.28">IDA E VOLTA</text><text x="313.04" y="980.72" font-size="9.7" font-weight="bold" fill="#111" textLength="22.40" lengthAdjust="spacingAndGlyphs" stroke="#111" stroke-width="0.5">Manaus</text><text transform="translate(313.04,991.32) scale(0.93,1)" font-size="9.3" font-weight="normal" fill="#4a4a4a" text-anchor="start" >5.756</text><rect x="594.46" y="966.02" width="0.7" height="27.80" fill="#bdbdbd"/><text x="596.81" y="970.92" font-size="6.4" font-weight="normal" fill="#2b2b2b" textLength="35.20" lengthAdjust="spacingAndGlyphs" stroke="#2b2b2b" stroke-width="0.28">IDA E VOLTA</text><text x="596.81" y="980.72" font-size="9.7" font-weight="bold" fill="#111" textLength="22.30" lengthAdjust="spacingAndGlyphs" stroke="#111" stroke-width="0.5">Brasília</text><text transform="translate(596.81,991.32) scale(0.93,1)" font-size="9.3" font-weight="normal" fill="#4a4a4a" text-anchor="start" >1.900</text><rect x="687.68" y="993.32" width="18.12" height="1.0" fill="#e6703a"/><rect x="144.60" y="992.22" width="165.44" height="3.2" rx="1.6" fill="#e25e1a"/><rect x="311.74" y="992.22" width="282.07" height="3.2" rx="1.6" fill="#e25e1a"/><rect x="595.51" y="992.22" width="93.17" height="3.2" rx="1.6" fill="#e25e1a"/><circle cx="144.80" cy="993.82" r="0.9" fill="#fff" stroke="#bdbdbd" stroke-width="0.4"/><circle cx="311.04" cy="993.82" r="0.9" fill="#fff" stroke="#bdbdbd" stroke-width="0.4"/><circle cx="594.81" cy="993.82" r="0.9" fill="#fff" stroke="#bdbdbd" stroke-width="0.4"/><rect x="705.80" y="983.92" width="48.00" height="19.4" rx="3.3" fill="#fff" stroke="#e06a38" stroke-width="1.2"/><text transform="translate(729.80,1001.32) scale(0.71,1)" font-size="19.8" font-weight="bold" fill="#111" text-anchor="middle" stroke="#111" stroke-width="0.25">11.028</text></g>
<g opacity="0.999"><rect x="1" y="1037.89" width="131" height="0.8" fill="#d2d2d2"/><rect x="0.9" y="1011.99" width="30.2" height="20.6" rx="3.6" fill="#000" opacity="0.34" filter="url(#sh)"/><g transform="translate(1.3,1012.09) scale(1.017,1.042)"><g clip-path="url(#fc)"><rect x="0.00" y="0.00" width="9.97" height="19.00" fill="#16964a"/><rect x="9.67" y="0.00" width="9.97" height="19.00" fill="#ffffff"/><rect x="19.33" y="0.00" width="9.97" height="19.00" fill="#f28c1c"/></g></g><rect x="1.3" y="1012.09" width="29.5" height="19.8" rx="3.3" fill="none" stroke="#000" stroke-opacity="0.10" stroke-width="0.6"/><text x="36.50" y="1019.19" font-size="8.6" font-weight="bold" fill="#111" textLength="78.40" lengthAdjust="spacingAndGlyphs" stroke="#111" stroke-width="0.2">COSTA DO MARFIM</text><text x="36.50" y="1031.89" font-size="8.9" font-weight="normal" fill="#2a2a2a" textLength="94.24" lengthAdjust="spacingAndGlyphs" >ÁGUAS DE LINDOIA (SP)</text><rect x="144.45" y="1002.99" width="0.7" height="27.80" fill="#bdbdbd"/><text x="146.80" y="1007.89" font-size="6.4" font-weight="normal" fill="#2b2b2b" textLength="35.20" lengthAdjust="spacingAndGlyphs" stroke="#2b2b2b" stroke-width="0.28">IDA E VOLTA</text><text x="146.80" y="1017.69" font-size="9.7" font-weight="bold" fill="#111" textLength="18.80" lengthAdjust="spacingAndGlyphs" stroke="#111" stroke-width="0.5">Recife</text><text transform="translate(146.80,1028.29) scale(0.93,1)" font-size="9.3" font-weight="normal" fill="#4a4a4a" text-anchor="start" >4.470</text><rect x="364.82" y="1002.99" width="0.7" height="27.80" fill="#bdbdbd"/><text x="367.17" y="1007.89" font-size="6.4" font-weight="normal" fill="#2b2b2b" textLength="35.20" lengthAdjust="spacingAndGlyphs" stroke="#2b2b2b" stroke-width="0.28">IDA E VOLTA</text><text x="367.17" y="1017.69" font-size="9.7" font-weight="bold" fill="#111" textLength="22.30" lengthAdjust="spacingAndGlyphs" stroke="#111" stroke-width="0.5">Brasília</text><text transform="translate(367.17,1028.29) scale(0.93,1)" font-size="9.3" font-weight="normal" fill="#4a4a4a" text-anchor="start" >1.860</text><rect x="456.52" y="1002.99" width="0.7" height="27.80" fill="#bdbdbd"/><text x="458.87" y="1007.89" font-size="6.4" font-weight="normal" fill="#2b2b2b" textLength="35.20" lengthAdjust="spacingAndGlyphs" stroke="#2b2b2b" stroke-width="0.28">IDA E VOLTA</text><text x="458.87" y="1017.69" font-size="9.7" font-weight="bold" fill="#111" textLength="27.50" lengthAdjust="spacingAndGlyphs" stroke="#111" stroke-width="0.5">Fortaleza</text><text transform="translate(458.87,1028.29) scale(0.93,1)" font-size="9.3" font-weight="normal" fill="#4a4a4a" text-anchor="start" >4.910</text><rect x="698.13" y="1030.29" width="23.37" height="1.0" fill="#e6703a"/><rect x="144.60" y="1029.19" width="219.57" height="3.2" rx="1.6" fill="#e25e1a"/><rect x="365.87" y="1029.19" width="90.00" height="3.2" rx="1.6" fill="#e25e1a"/><rect x="457.57" y="1029.19" width="241.56" height="3.2" rx="1.6" fill="#e25e1a"/><circle cx="144.80" cy="1030.79" r="0.9" fill="#fff" stroke="#bdbdbd" stroke-width="0.4"/><circle cx="365.17" cy="1030.79" r="0.9" fill="#fff" stroke="#bdbdbd" stroke-width="0.4"/><circle cx="456.87" cy="1030.79" r="0.9" fill="#fff" stroke="#bdbdbd" stroke-width="0.4"/><rect x="721.50" y="1020.89" width="48.00" height="19.4" rx="3.3" fill="#fff" stroke="#e06a38" stroke-width="1.2"/><text transform="translate(745.50,1038.29) scale(0.71,1)" font-size="19.8" font-weight="bold" fill="#111" text-anchor="middle" stroke="#111" stroke-width="0.25">11.240</text></g>
<g opacity="0.999"><rect x="1" y="1074.96" width="131" height="0.8" fill="#d2d2d2"/><rect x="0.9" y="1048.96" width="30.2" height="20.6" rx="3.6" fill="#000" opacity="0.34" filter="url(#sh)"/><g transform="translate(1.3,1049.06) scale(1.017,1.042)"><g clip-path="url(#fc)"><rect x="0.00" y="0.00" width="29.00" height="19.00" fill="#ffffff"/><circle cx="14.5" cy="9.5" r="6.2" fill="#e2001a" /></g></g><rect x="1.3" y="1049.06" width="29.5" height="19.8" rx="3.3" fill="none" stroke="#000" stroke-opacity="0.10" stroke-width="0.6"/><text x="36.50" y="1056.16" font-size="8.6" font-weight="bold" fill="#111" textLength="27.84" lengthAdjust="spacingAndGlyphs" stroke="#111" stroke-width="0.2">JAPÃO</text><text x="36.50" y="1068.86" font-size="8.9" font-weight="normal" fill="#2a2a2a" textLength="31.04" lengthAdjust="spacingAndGlyphs" >ITU (SP)</text><rect x="144.45" y="1039.96" width="0.7" height="27.80" fill="#bdbdbd"/><text x="146.80" y="1044.86" font-size="6.4" font-weight="normal" fill="#2b2b2b" textLength="35.20" lengthAdjust="spacingAndGlyphs" stroke="#2b2b2b" stroke-width="0.28">IDA E VOLTA</text><text x="146.80" y="1054.66" font-size="9.7" font-weight="bold" fill="#111" textLength="18.80" lengthAdjust="spacingAndGlyphs" stroke="#111" stroke-width="0.5">Recife</text><text transform="translate(146.80,1065.26) scale(0.93,1)" font-size="9.3" font-weight="normal" fill="#4a4a4a" text-anchor="start" >4.288</text><rect x="355.85" y="1039.96" width="0.7" height="27.80" fill="#bdbdbd"/><text x="358.20" y="1044.86" font-size="6.4" font-weight="normal" fill="#2b2b2b" textLength="35.20" lengthAdjust="spacingAndGlyphs" stroke="#2b2b2b" stroke-width="0.28">IDA E VOLTA</text><text x="358.20" y="1054.66" font-size="9.7" font-weight="bold" fill="#111" textLength="15.70" lengthAdjust="spacingAndGlyphs" stroke="#111" stroke-width="0.5">Natal</text><text transform="translate(358.20,1065.26) scale(0.93,1)" font-size="9.3" font-weight="normal" fill="#4a4a4a" text-anchor="start" >4.648</text><rect x="584.99" y="1039.96" width="0.7" height="27.80" fill="#bdbdbd"/><text x="587.34" y="1044.86" font-size="6.4" font-weight="normal" fill="#2b2b2b" textLength="35.20" lengthAdjust="spacingAndGlyphs" stroke="#2b2b2b" stroke-width="0.28">IDA E VOLTA</text><text x="587.34" y="1054.66" font-size="9.7" font-weight="bold" fill="#111" textLength="19.30" lengthAdjust="spacingAndGlyphs" stroke="#111" stroke-width="0.5">Cuiabá</text><text transform="translate(587.34,1065.26) scale(0.93,1)" font-size="9.3" font-weight="normal" fill="#4a4a4a" text-anchor="start" >2.576</text><rect x="711.54" y="1067.26" width="23.96" height="1.0" fill="#e6703a"/><rect x="144.60" y="1066.16" width="210.60" height="3.2" rx="1.6" fill="#e25e1a"/><rect x="356.90" y="1066.16" width="227.45" height="3.2" rx="1.6" fill="#e25e1a"/><rect x="586.04" y="1066.16" width="126.50" height="3.2" rx="1.6" fill="#e25e1a"/><circle cx="144.80" cy="1067.76" r="0.9" fill="#fff" stroke="#bdbdbd" stroke-width="0.4"/><circle cx="356.20" cy="1067.76" r="0.9" fill="#fff" stroke="#bdbdbd" stroke-width="0.4"/><circle cx="585.34" cy="1067.76" r="0.9" fill="#fff" stroke="#bdbdbd" stroke-width="0.4"/><rect x="735.50" y="1056.76" width="45.00" height="19.4" rx="3.3" fill="#fff" stroke="#e06a38" stroke-width="1.2"/><text transform="translate(758.00,1074.16) scale(0.71,1)" font-size="19.8" font-weight="bold" fill="#111" text-anchor="middle" stroke="#111" stroke-width="0.25">11.512</text></g>
<g opacity="0.999"><rect x="1" y="1112.93" width="131" height="0.8" fill="#d2d2d2"/><rect x="0.9" y="1085.93" width="30.2" height="20.6" rx="3.6" fill="#000" opacity="0.34" filter="url(#sh)"/><g transform="translate(1.3,1086.03) scale(1.017,1.042)"><g clip-path="url(#fc)"><rect x="0.00" y="0.00" width="9.97" height="19.00" fill="#6cb33f"/><rect x="9.67" y="0.00" width="9.97" height="19.00" fill="#ffffff"/><rect x="19.33" y="0.00" width="9.97" height="19.00" fill="#e2001a"/><circle cx="14.5" cy="9.6" r="3.5" fill="#8a8a3a" /><circle cx="14.5" cy="9.2" r="2.0" fill="#6a4a2a" /><path d="M11.6 10.5 Q14.5 14 17.4 10.5" stroke="#5a8a3a" stroke-width="0.9" fill="none"/></g></g><rect x="1.3" y="1086.03" width="29.5" height="19.8" rx="3.3" fill="none" stroke="#000" stroke-opacity="0.10" stroke-width="0.6"/><text x="36.50" y="1093.13" font-size="8.6" font-weight="bold" fill="#111" textLength="32.32" lengthAdjust="spacingAndGlyphs" stroke="#111" stroke-width="0.2">MÉXICO</text><text x="36.50" y="1105.83" font-size="8.9" font-weight="normal" fill="#2a2a2a" textLength="51.04" lengthAdjust="spacingAndGlyphs" >SANTOS (SP)</text><rect x="144.45" y="1076.93" width="0.7" height="27.80" fill="#bdbdbd"/><text x="146.80" y="1081.83" font-size="6.4" font-weight="normal" fill="#2b2b2b" textLength="35.20" lengthAdjust="spacingAndGlyphs" stroke="#2b2b2b" stroke-width="0.28">IDA E VOLTA</text><text x="146.80" y="1091.63" font-size="9.7" font-weight="bold" fill="#111" textLength="15.70" lengthAdjust="spacingAndGlyphs" stroke="#111" stroke-width="0.5">Natal</text><text transform="translate(146.80,1102.23) scale(0.93,1)" font-size="9.3" font-weight="normal" fill="#4a4a4a" text-anchor="start" >4.768</text><rect x="379.51" y="1076.93" width="0.7" height="27.80" fill="#bdbdbd"/><text x="381.86" y="1081.83" font-size="6.4" font-weight="normal" fill="#d0313d" textLength="35.20" lengthAdjust="spacingAndGlyphs" stroke="#d0313d" stroke-width="0.28">IDA E VOLTA</text><text x="381.86" y="1091.63" font-size="9.7" font-weight="bold" fill="#111" textLength="27.50" lengthAdjust="spacingAndGlyphs" stroke="#111" stroke-width="0.5">Fortaleza</text><text transform="translate(381.86,1102.23) scale(0.93,1)" font-size="9.3" font-weight="normal" fill="#4a4a4a" text-anchor="start" >4.878</text><rect x="620.00" y="1076.93" width="0.7" height="27.80" fill="#bdbdbd"/><text x="622.35" y="1081.83" font-size="6.4" font-weight="normal" fill="#2b2b2b" textLength="35.20" lengthAdjust="spacingAndGlyphs" stroke="#2b2b2b" stroke-width="0.28">IDA E VOLTA</text><text x="622.35" y="1091.63" font-size="9.7" font-weight="bold" fill="#111" textLength="18.80" lengthAdjust="spacingAndGlyphs" stroke="#111" stroke-width="0.5">Recife</text><text transform="translate(622.35,1102.23) scale(0.93,1)" font-size="9.3" font-weight="normal" fill="#4a4a4a" text-anchor="start" >4.394</text><rect x="836.17" y="1104.23" width="15.13" height="1.0" fill="#e6703a"/><rect x="144.60" y="1103.13" width="234.26" height="3.2" rx="1.6" fill="#e25e1a"/><rect x="380.56" y="1103.13" width="238.79" height="3.2" rx="1.6" fill="#e25e1a"/><rect x="621.05" y="1103.13" width="216.12" height="3.2" rx="1.6" fill="#e25e1a"/><circle cx="144.80" cy="1104.73" r="0.9" fill="#fff" stroke="#bdbdbd" stroke-width="0.4"/><circle cx="379.86" cy="1104.73" r="0.9" fill="#fff" stroke="#bdbdbd" stroke-width="0.4"/><circle cx="620.35" cy="1104.73" r="0.9" fill="#fff" stroke="#bdbdbd" stroke-width="0.4"/><rect x="851.30" y="1092.83" width="53.80" height="19.4" rx="3.3" fill="#fff" stroke="#e06a38" stroke-width="1.2"/><text transform="translate(878.20,1110.23) scale(0.71,1)" font-size="19.8" font-weight="bold" fill="#111" text-anchor="middle" stroke="#111" stroke-width="0.25">14.040</text></g>
<g opacity="0.999"><rect x="1" y="1148.00" width="131" height="0.8" fill="#d2d2d2"/><rect x="0.9" y="1122.90" width="30.2" height="20.6" rx="3.6" fill="#000" opacity="0.34" filter="url(#sh)"/><g transform="translate(1.3,1123.00) scale(1.017,1.042)"><g clip-path="url(#fc)"><rect x="0.00" y="0.00" width="9.97" height="19.00" fill="#6cb33f"/><rect x="9.67" y="0.00" width="9.97" height="19.00" fill="#ffffff"/><rect x="19.33" y="0.00" width="9.97" height="19.00" fill="#e2001a"/></g></g><rect x="1.3" y="1123.00" width="29.5" height="19.8" rx="3.3" fill="none" stroke="#000" stroke-opacity="0.10" stroke-width="0.6"/><text x="36.50" y="1130.10" font-size="8.6" font-weight="bold" fill="#111" textLength="25.92" lengthAdjust="spacingAndGlyphs" stroke="#111" stroke-width="0.2">ITÁLIA</text><text x="36.50" y="1142.80" font-size="8.9" font-weight="normal" fill="#2a2a2a" textLength="77.92" lengthAdjust="spacingAndGlyphs" >MANGARATIBA (RJ)</text><rect x="144.45" y="1113.90" width="0.7" height="27.80" fill="#bdbdbd"/><text x="146.80" y="1118.80" font-size="6.4" font-weight="normal" fill="#2b2b2b" textLength="35.20" lengthAdjust="spacingAndGlyphs" stroke="#2b2b2b" stroke-width="0.28">IDA E VOLTA</text><text x="146.80" y="1128.60" font-size="9.7" font-weight="bold" fill="#111" textLength="22.40" lengthAdjust="spacingAndGlyphs" stroke="#111" stroke-width="0.5">Manaus</text><text transform="translate(146.80,1139.20) scale(0.93,1)" font-size="9.3" font-weight="normal" fill="#4a4a4a" text-anchor="start" >5.888</text><rect x="434.73" y="1113.90" width="0.7" height="27.80" fill="#bdbdbd"/><text x="437.08" y="1118.80" font-size="6.4" font-weight="normal" fill="#2b2b2b" textLength="35.20" lengthAdjust="spacingAndGlyphs" stroke="#2b2b2b" stroke-width="0.28">IDA E VOLTA</text><text x="437.08" y="1128.60" font-size="9.7" font-weight="bold" fill="#111" textLength="18.80" lengthAdjust="spacingAndGlyphs" stroke="#111" stroke-width="0.5">Recife</text><text transform="translate(437.08,1139.20) scale(0.93,1)" font-size="9.3" font-weight="normal" fill="#4a4a4a" text-anchor="start" >3.914</text><rect x="627.69" y="1113.90" width="0.7" height="27.80" fill="#bdbdbd"/><text x="630.04" y="1118.80" font-size="6.4" font-weight="normal" fill="#2b2b2b" textLength="35.20" lengthAdjust="spacingAndGlyphs" stroke="#2b2b2b" stroke-width="0.28">IDA E VOLTA</text><text x="630.04" y="1128.60" font-size="9.7" font-weight="bold" fill="#111" textLength="15.70" lengthAdjust="spacingAndGlyphs" stroke="#111" stroke-width="0.5">Natal</text><text transform="translate(630.04,1139.20) scale(0.93,1)" font-size="9.3" font-weight="normal" fill="#4a4a4a" text-anchor="start" >4.324</text><rect x="840.41" y="1141.20" width="29.09" height="1.0" fill="#e6703a"/><rect x="144.60" y="1140.10" width="289.48" height="3.2" rx="1.6" fill="#e25e1a"/><rect x="435.78" y="1140.10" width="191.26" height="3.2" rx="1.6" fill="#e25e1a"/><rect x="628.74" y="1140.10" width="212.67" height="3.2" rx="1.6" fill="#e25e1a"/><circle cx="144.80" cy="1141.70" r="0.9" fill="#fff" stroke="#bdbdbd" stroke-width="0.4"/><circle cx="435.08" cy="1141.70" r="0.9" fill="#fff" stroke="#bdbdbd" stroke-width="0.4"/><circle cx="628.04" cy="1141.70" r="0.9" fill="#fff" stroke="#bdbdbd" stroke-width="0.4"/><rect x="869.50" y="1130.90" width="49.60" height="19.4" rx="3.3" fill="#fff" stroke="#e06a38" stroke-width="1.2"/><text transform="translate(894.30,1148.30) scale(0.71,1)" font-size="19.8" font-weight="bold" fill="#111" text-anchor="middle" stroke="#111" stroke-width="0.25">14.126</text></g>
<g opacity="0.999"><rect x="0.9" y="1159.87" width="30.2" height="20.6" rx="3.6" fill="#000" opacity="0.34" filter="url(#sh)"/><g transform="translate(1.3,1159.97) scale(1.017,1.042)"><g clip-path="url(#fc)"><rect x="0.00" y="0.00" width="29.00" height="19.00" fill="#ffffff"/><rect x="0.00" y="0.00" width="29.00" height="1.46" fill="#d8232a"/><rect x="0.00" y="2.92" width="29.00" height="1.46" fill="#d8232a"/><rect x="0.00" y="5.85" width="29.00" height="1.46" fill="#d8232a"/><rect x="0.00" y="8.77" width="29.00" height="1.46" fill="#d8232a"/><rect x="0.00" y="11.69" width="29.00" height="1.46" fill="#d8232a"/><rect x="0.00" y="14.62" width="29.00" height="1.46" fill="#d8232a"/><rect x="0.00" y="17.54" width="29.00" height="1.46" fill="#d8232a"/><rect x="0.00" y="0.00" width="12.20" height="10.23" fill="#4b4ea3"/><circle cx="1.2" cy="1.0" r="0.35" fill="#c8c8e8" /><circle cx="2.8499999999999996" cy="1.0" r="0.35" fill="#c8c8e8" /><circle cx="4.5" cy="1.0" r="0.35" fill="#c8c8e8" /><circle cx="6.1499999999999995" cy="1.0" r="0.35" fill="#c8c8e8" /><circle cx="7.8" cy="1.0" r="0.35" fill="#c8c8e8" /><circle cx="9.45" cy="1.0" r="0.35" fill="#c8c8e8" /><circle cx="11.099999999999998" cy="1.0" r="0.35" fill="#c8c8e8" /><circle cx="2.0" cy="2.65" r="0.35" fill="#c8c8e8" /><circle cx="3.6499999999999995" cy="2.65" r="0.35" fill="#c8c8e8" /><circle cx="5.3" cy="2.65" r="0.35" fill="#c8c8e8" /><circle cx="6.949999999999999" cy="2.65" r="0.35" fill="#c8c8e8" /><circle cx="8.6" cy="2.65" r="0.35" fill="#c8c8e8" /><circle cx="10.25" cy="2.65" r="0.35" fill="#c8c8e8" /><circle cx="11.899999999999999" cy="2.65" r="0.35" fill="#c8c8e8" /><circle cx="1.2" cy="4.3" r="0.35" fill="#c8c8e8" /><circle cx="2.8499999999999996" cy="4.3" r="0.35" fill="#c8c8e8" /><circle cx="4.5" cy="4.3" r="0.35" fill="#c8c8e8" /><circle cx="6.1499999999999995" cy="4.3" r="0.35" fill="#c8c8e8" /><circle cx="7.8" cy="4.3" r="0.35" fill="#c8c8e8" /><circle cx="9.45" cy="4.3" r="0.35" fill="#c8c8e8" /><circle cx="11.099999999999998" cy="4.3" r="0.35" fill="#c8c8e8" /><circle cx="2.0" cy="5.949999999999999" r="0.35" fill="#c8c8e8" /><circle cx="3.6499999999999995" cy="5.949999999999999" r="0.35" fill="#c8c8e8" /><circle cx="5.3" cy="5.949999999999999" r="0.35" fill="#c8c8e8" /><circle cx="6.949999999999999" cy="5.949999999999999" r="0.35" fill="#c8c8e8" /><circle cx="8.6" cy="5.949999999999999" r="0.35" fill="#c8c8e8" /><circle cx="10.25" cy="5.949999999999999" r="0.35" fill="#c8c8e8" /><circle cx="11.899999999999999" cy="5.949999999999999" r="0.35" fill="#c8c8e8" /><circle cx="1.2" cy="7.6" r="0.35" fill="#c8c8e8" /><circle cx="2.8499999999999996" cy="7.6" r="0.35" fill="#c8c8e8" /><circle cx="4.5" cy="7.6" r="0.35" fill="#c8c8e8" /><circle cx="6.1499999999999995" cy="7.6" r="0.35" fill="#c8c8e8" /><circle cx="7.8" cy="7.6" r="0.35" fill="#c8c8e8" /><circle cx="9.45" cy="7.6" r="0.35" fill="#c8c8e8" /><circle cx="11.099999999999998" cy="7.6" r="0.35" fill="#c8c8e8" /><circle cx="2.0" cy="9.25" r="0.35" fill="#c8c8e8" /><circle cx="3.6499999999999995" cy="9.25" r="0.35" fill="#c8c8e8" /><circle cx="5.3" cy="9.25" r="0.35" fill="#c8c8e8" /><circle cx="6.949999999999999" cy="9.25" r="0.35" fill="#c8c8e8" /><circle cx="8.6" cy="9.25" r="0.35" fill="#c8c8e8" /><circle cx="10.25" cy="9.25" r="0.35" fill="#c8c8e8" /><circle cx="11.899999999999999" cy="9.25" r="0.35" fill="#c8c8e8" /></g></g><rect x="1.3" y="1159.97" width="29.5" height="19.8" rx="3.3" fill="none" stroke="#000" stroke-opacity="0.10" stroke-width="0.6"/><text x="36.50" y="1167.07" font-size="8.6" font-weight="bold" fill="#111" textLength="73.92" lengthAdjust="spacingAndGlyphs" stroke="#111" stroke-width="0.2">ESTADOS UNIDOS</text><text x="36.50" y="1179.77" font-size="8.9" font-weight="normal" fill="#2a2a2a" textLength="63.52" lengthAdjust="spacingAndGlyphs" >SÃO PAULO (SP)</text><rect x="144.45" y="1150.87" width="0.7" height="27.80" fill="#bdbdbd"/><text x="146.80" y="1155.77" font-size="6.4" font-weight="normal" fill="#2b2b2b" textLength="35.20" lengthAdjust="spacingAndGlyphs" stroke="#2b2b2b" stroke-width="0.28">IDA E VOLTA</text><text x="146.80" y="1165.57" font-size="9.7" font-weight="bold" fill="#111" textLength="15.70" lengthAdjust="spacingAndGlyphs" stroke="#111" stroke-width="0.5">Natal</text><text transform="translate(146.80,1176.17) scale(0.93,1)" font-size="9.3" font-weight="normal" fill="#4a4a4a" text-anchor="start" >4.896</text><rect x="385.82" y="1150.87" width="0.7" height="27.80" fill="#bdbdbd"/><text x="388.17" y="1155.77" font-size="6.4" font-weight="normal" fill="#2b2b2b" textLength="35.20" lengthAdjust="spacingAndGlyphs" stroke="#2b2b2b" stroke-width="0.28">IDA E VOLTA</text><text x="388.17" y="1165.57" font-size="9.7" font-weight="bold" fill="#111" textLength="22.40" lengthAdjust="spacingAndGlyphs" stroke="#111" stroke-width="0.5">Manaus</text><text transform="translate(388.17,1176.17) scale(0.93,1)" font-size="9.3" font-weight="normal" fill="#4a4a4a" text-anchor="start" >5.308</text><rect x="647.51" y="1150.87" width="0.7" height="27.80" fill="#bdbdbd"/><text x="649.86" y="1155.77" font-size="6.4" font-weight="normal" fill="#2b2b2b" textLength="35.20" lengthAdjust="spacingAndGlyphs" stroke="#2b2b2b" stroke-width="0.28">IDA E VOLTA</text><text x="649.86" y="1165.57" font-size="9.7" font-weight="bold" fill="#111" textLength="18.80" lengthAdjust="spacingAndGlyphs" stroke="#111" stroke-width="0.5">Recife</text><text transform="translate(649.86,1176.17) scale(0.93,1)" font-size="9.3" font-weight="normal" fill="#4a4a4a" text-anchor="start" >4.122</text><rect x="850.27" y="1178.17" width="34.23" height="1.0" fill="#e6703a"/><rect x="144.60" y="1177.07" width="240.57" height="3.2" rx="1.6" fill="#e25e1a"/><rect x="386.87" y="1177.07" width="259.98" height="3.2" rx="1.6" fill="#e25e1a"/><rect x="648.56" y="1177.07" width="202.71" height="3.2" rx="1.6" fill="#e25e1a"/><circle cx="144.80" cy="1178.67" r="0.9" fill="#fff" stroke="#bdbdbd" stroke-width="0.4"/><circle cx="386.17" cy="1178.67" r="0.9" fill="#fff" stroke="#bdbdbd" stroke-width="0.4"/><circle cx="647.86" cy="1178.67" r="0.9" fill="#fff" stroke="#bdbdbd" stroke-width="0.4"/><rect x="884.50" y="1167.47" width="52.50" height="19.4" rx="3.3" fill="#fff" stroke="#e06a38" stroke-width="1.2"/><text transform="translate(910.75,1184.87) scale(0.71,1)" font-size="19.8" font-weight="bold" fill="#111" text-anchor="middle" stroke="#111" stroke-width="0.25">14.326</text></g>
</svg>
</body></html>
